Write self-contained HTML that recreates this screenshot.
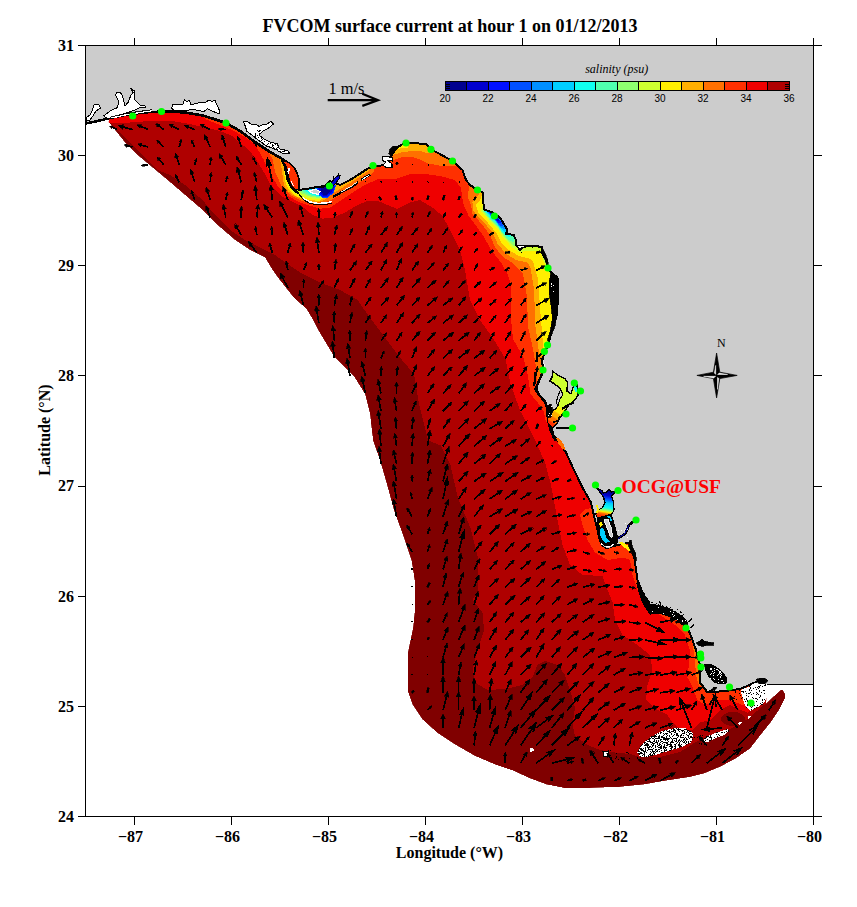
<!DOCTYPE html>
<html><head><meta charset="utf-8"><style>
html,body{margin:0;padding:0;background:#fff}
body{width:857px;height:907px;position:relative;overflow:hidden;font-family:"Liberation Serif",serif;color:#000}
.t{position:absolute;white-space:nowrap;line-height:1}
.yl{font-size:16px;font-weight:bold}
.xl{font-size:16px;font-weight:bold;transform:translateX(-50%)}
.cb{font-family:"Liberation Sans",sans-serif;font-size:10px;transform:translateX(-50%)}
</style></head><body>
<svg width="857" height="907" viewBox="0 0 857 907" style="position:absolute;left:0;top:0" shape-rendering="crispEdges">
<defs><clipPath id="dom"><polygon points="108.5,122.0 115.0,130.0 125.0,142.5 137.5,155.0 152.5,167.5 167.5,180.0 185.0,195.0 202.5,210.0 217.5,225.0 235.0,240.0 250.0,250.0 265.0,257.5 272.5,270.0 279.0,279.0 294.0,298.0 306.5,309.0 313.0,320.0 319.0,331.5 334.0,356.5 354.0,376.5 365.0,394.0 370.0,414.0 371.5,428.0 373.0,440.5 380.0,460.5 386.5,483.0 394.0,510.5 404.0,538.0 411.5,560.5 415.0,583.0 415.0,608.0 413.0,628.0 410.0,642.0 408.0,652.0 407.5,667.0 408.0,692.0 412.5,704.5 422.5,719.5 437.5,733.0 455.0,744.5 475.0,756.0 495.0,764.5 514.0,771.0 529.0,778.0 546.5,784.5 564.0,788.0 589.0,788.0 619.0,787.0 644.0,784.5 664.0,781.0 690.0,777.0 704.0,773.6 720.8,766.6 736.2,758.2 750.2,748.4 760.0,735.8 771.2,721.8 779.6,709.2 785.2,698.0 785.2,694.0 782.4,689.6 781.0,689.8 774.0,696.0 766.0,703.5 767.0,690.0 765.0,684.5 765.0,681.0 755.0,682.5 740.0,689.0 725.0,691.0 707.5,692.5 700.0,682.5 700.0,665.0 696.0,650.0 692.5,640.0 687.5,627.5 680.0,617.5 665.0,610.0 650.0,605.0 642.5,592.5 637.5,580.0 634.0,555.0 630.0,542.5 617.5,545.0 607.5,547.5 600.0,540.0 595.0,520.0 591.0,502.5 582.5,487.5 574.0,470.0 566.0,452.5 557.5,440.0 551.0,432.5 549.0,425.0 547.5,417.5 547.5,407.5 545.0,401.0 538.7,395.0 535.0,388.7 538.0,383.7 541.0,376.0 543.0,367.5 542.5,358.7 545.5,351.5 549.0,341.5 553.0,326.5 557.0,314.0 558.5,289.0 557.5,277.5 551.0,272.5 547.5,265.0 546.0,260.0 542.5,253.7 542.0,247.0 535.0,246.0 525.0,246.0 520.0,250.0 516.0,245.0 516.0,240.0 513.7,235.0 506.0,233.7 507.5,230.0 503.7,223.7 500.0,217.5 492.5,212.5 484.4,209.4 483.0,201.0 482.5,192.0 477.5,190.0 470.0,185.0 466.0,180.0 462.5,170.0 452.5,161.0 432.5,150.0 426.0,144.0 406.0,142.5 397.5,147.0 391.0,156.0 388.0,165.0 374.0,166.0 367.5,168.7 360.0,173.7 350.0,180.0 340.0,185.0 330.0,181.0 325.0,186.0 317.5,187.0 307.5,188.7 298.7,190.0 298.7,180.0 296.0,171.0 291.0,165.0 282.5,159.0 270.0,152.0 255.0,142.0 240.0,131.0 226.0,123.0 214.0,119.0 202.5,115.5 185.0,112.5 170.0,111.5 150.0,112.0 130.0,114.0 110.0,118.0 110.0,118.0"/></clipPath></defs>
<rect width="857" height="907" fill="#fff"/>
<g clip-path="url(#dom)">
<polygon points="108.5,122.0 115.0,130.0 125.0,142.5 137.5,155.0 152.5,167.5 167.5,180.0 185.0,195.0 202.5,210.0 217.5,225.0 235.0,240.0 250.0,250.0 265.0,257.5 272.5,270.0 279.0,279.0 294.0,298.0 306.5,309.0 313.0,320.0 319.0,331.5 334.0,356.5 354.0,376.5 365.0,394.0 370.0,414.0 371.5,428.0 373.0,440.5 380.0,460.5 386.5,483.0 394.0,510.5 404.0,538.0 411.5,560.5 415.0,583.0 415.0,608.0 413.0,628.0 410.0,642.0 408.0,652.0 407.5,667.0 408.0,692.0 412.5,704.5 422.5,719.5 437.5,733.0 455.0,744.5 475.0,756.0 495.0,764.5 514.0,771.0 529.0,778.0 546.5,784.5 564.0,788.0 589.0,788.0 619.0,787.0 644.0,784.5 664.0,781.0 690.0,777.0 704.0,773.6 720.8,766.6 736.2,758.2 750.2,748.4 760.0,735.8 771.2,721.8 779.6,709.2 785.2,698.0 785.2,694.0 782.4,689.6 781.0,689.8 774.0,696.0 766.0,703.5 767.0,690.0 765.0,684.5 765.0,681.0 755.0,682.5 740.0,689.0 725.0,691.0 707.5,692.5 700.0,682.5 700.0,665.0 696.0,650.0 692.5,640.0 687.5,627.5 680.0,617.5 665.0,610.0 650.0,605.0 642.5,592.5 637.5,580.0 634.0,555.0 630.0,542.5 617.5,545.0 607.5,547.5 600.0,540.0 595.0,520.0 591.0,502.5 582.5,487.5 574.0,470.0 566.0,452.5 557.5,440.0 551.0,432.5 549.0,425.0 547.5,417.5 547.5,407.5 545.0,401.0 538.7,395.0 535.0,388.7 538.0,383.7 541.0,376.0 543.0,367.5 542.5,358.7 545.5,351.5 549.0,341.5 553.0,326.5 557.0,314.0 558.5,289.0 557.5,277.5 551.0,272.5 547.5,265.0 546.0,260.0 542.5,253.7 542.0,247.0 535.0,246.0 525.0,246.0 520.0,250.0 516.0,245.0 516.0,240.0 513.7,235.0 506.0,233.7 507.5,230.0 503.7,223.7 500.0,217.5 492.5,212.5 484.4,209.4 483.0,201.0 482.5,192.0 477.5,190.0 470.0,185.0 466.0,180.0 462.5,170.0 452.5,161.0 432.5,150.0 426.0,144.0 406.0,142.5 397.5,147.0 391.0,156.0 388.0,165.0 374.0,166.0 367.5,168.7 360.0,173.7 350.0,180.0 340.0,185.0 330.0,181.0 325.0,186.0 317.5,187.0 307.5,188.7 298.7,190.0 298.7,180.0 296.0,171.0 291.0,165.0 282.5,159.0 270.0,152.0 255.0,142.0 240.0,131.0 226.0,123.0 214.0,119.0 202.5,115.5 185.0,112.5 170.0,111.5 150.0,112.0 130.0,114.0 110.0,118.0 110.0,118.0" fill="#800000"/>
<polygon points="157.5,170.0 170.0,175.0 185.0,185.0 202.5,200.0 215.0,215.0 230.0,230.0 245.0,240.0 260.0,247.5 275.0,255.0 289.0,265.0 302.5,274.0 320.0,282.5 340.0,290.0 357.5,300.0 369.0,316.5 384.0,336.5 399.0,356.5 414.0,374.0 419.0,404.0 425.0,428.0 428.0,440.5 440.5,445.5 450.5,465.5 458.0,498.0 470.5,528.0 478.0,558.0 478.0,590.5 472.5,600.0 482.5,612.5 484.0,630.0 477.5,650.0 472.5,670.0 475.0,682.5 487.5,690.0 505.0,689.0 522.5,685.0 532.5,677.5 537.5,665.0 545.0,661.0 557.5,665.0 565.0,675.0 570.0,690.0 575.0,707.5 572.5,725.0 575.0,736.0 587.5,745.0 600.0,750.0 615.0,752.5 630.0,754.0 640.0,757.0 660.0,757.0 680.0,752.0 695.0,742.5 707.5,736.0 727.5,730.0 740.0,724.0 750.0,717.5 758.6,709.5 765.6,703.8 767.0,700.0 767.0,684.0 840.0,684.0 840.0,30.0 60.0,30.0 60.0,130.0 108.0,121.0" fill="#af0000"/>
<polygon points="108.5,122.5 130.0,122.5 150.0,121.0 172.5,121.0 190.0,124.0 205.0,127.5 220.0,131.0 232.5,136.0 242.5,145.0 248.0,149.0 255.6,158.4 264.0,172.4 271.5,186.4 280.8,195.7 291.0,201.0 302.3,206.5 312.5,215.0 322.5,218.7 332.5,217.5 345.0,212.5 357.5,205.0 367.5,201.0 377.0,200.5 390.0,206.0 397.5,209.0 410.0,202.5 420.0,200.0 432.5,207.5 442.5,216.0 450.0,230.0 460.0,250.0 465.0,270.0 470.0,300.0 480.0,320.0 492.5,337.5 505.5,359.0 510.5,384.0 520.5,411.5 525.0,420.0 535.0,440.0 545.0,462.5 551.0,485.0 557.5,520.0 562.5,545.0 570.0,565.0 582.5,575.0 602.5,576.0 607.5,590.0 612.5,602.0 615.0,620.0 622.5,635.0 637.5,645.0 650.0,655.0 652.5,670.0 647.5,685.0 646.0,700.0 657.5,710.0 667.5,715.0 672.5,722.5 680.0,730.0 692.5,730.0 700.0,722.5 710.0,720.0 720.0,710.0 730.0,705.0 740.0,710.0 747.5,712.5 760.0,705.0 765.0,699.0 767.0,684.0 840.0,684.0 840.0,30.0 60.0,30.0 60.0,118.0" fill="#ef0000"/>
<ellipse cx="733" cy="719" rx="12" ry="7" fill="#800000"/>
<polygon points="196.0,108.0 205.0,119.0 217.5,124.0 232.0,130.0 245.0,137.0 254.7,144.3 263.0,158.4 269.6,172.4 278.0,186.4 287.4,195.7 300.0,202.5 311.0,206.0 320.0,208.7 330.0,207.5 337.5,202.5 345.0,197.5 355.0,191.0 365.0,185.0 377.0,179.5 395.0,179.0 410.0,174.0 425.0,174.0 440.0,176.0 455.0,180.0 461.0,188.0 462.0,196.0 463.7,205.0 468.7,216.0 477.5,227.5 485.0,238.7 491.0,250.0 501.0,262.5 508.0,275.0 510.5,284.0 510.5,314.0 513.0,339.0 523.0,356.5 528.0,376.5 530.5,394.0 538.0,403.0 544.0,412.0 546.0,422.0 560.0,422.0 840.0,422.0 840.0,30.0 196.0,30.0" fill="#ff3000"/>
<polygon points="553.0,434.0 556.0,437.5 560.0,442.0 563.0,447.0 566.0,452.5 572.0,450.0 565.0,436.0" fill="#ff3000"/>
<polygon points="600.0,500.0 592.5,508.0 585.0,509.0 580.0,515.0 582.5,525.0 587.5,540.0 595.0,552.5 607.5,560.0 622.5,557.5 630.0,560.0 632.5,575.0 637.5,590.0 645.0,605.0 660.0,615.0 675.0,625.0 685.0,635.0 690.0,650.0 688.8,665.0 687.5,677.5 692.5,687.5 697.5,700.0 705.0,705.0 717.5,700.0 730.0,700.0 742.5,705.0 760.0,700.0 766.0,690.0 800.0,600.0" fill="#ff3000"/>
<polygon points="258.0,141.0 262.0,146.0 268.0,152.0 272.4,158.4 275.2,172.4 281.8,186.4 291.0,195.7 301.0,200.5 311.0,203.7 320.0,205.0 325.0,202.5 333.0,199.0 347.5,190.0 365.0,179.0 374.0,172.0 374.0,150.0 262.0,130.0" fill="#ff7000"/>
<polygon points="276.0,153.0 279.0,157.0 281.0,164.0 282.2,172.4 283.0,180.0 284.6,186.4 288.5,191.5 293.9,195.7 305.0,200.5 317.5,202.5 324.0,200.0 332.0,194.0 345.0,186.0 358.0,178.0 370.0,170.0 370.0,150.0 276.0,140.0" fill="#ffaf00"/>
<polygon points="283.0,160.0 283.5,166.0 284.1,172.4 285.0,180.0 286.9,186.4 291.0,192.0 296.7,196.5 307.5,199.5 318.7,201.0 324.0,198.0 328.0,192.0 334.0,186.0 340.0,176.0 340.0,150.0 283.0,150.0" fill="#ffef00"/>
<polygon points="285.0,170.0 285.5,176.0 287.0,181.0 289.3,186.4 293.5,192.0 299.5,195.7 308.0,198.0 319.0,199.5 323.0,197.0 327.0,190.0 333.0,182.0 333.0,160.0 285.0,160.0" fill="#cfff30"/>
<polygon points="298.0,189.0 302.0,193.5 310.0,196.5 319.0,198.0 324.0,195.0 328.0,188.0 333.0,181.0 330.0,178.0 300.0,185.0" fill="#8fff70"/>
<polygon points="299.0,189.0 305.0,193.0 312.0,196.0 319.0,197.0 323.0,194.0 327.0,187.0 331.0,181.0 300.0,186.0" fill="#50ffaf"/>
<polygon points="303.0,189.5 309.0,193.5 315.0,195.5 320.0,196.0 323.0,193.0 326.0,187.0 330.0,181.0 305.0,187.0" fill="#10ffef"/>
<polygon points="308.0,190.0 313.0,194.0 319.0,195.0 322.0,192.5 325.0,187.0 329.0,181.5 312.0,187.0" fill="#00cfff"/>
<polygon points="314.0,190.0 317.0,193.5 320.0,194.5 323.0,192.0 326.0,187.0 329.0,182.0 318.0,186.0" fill="#008fff"/>
<polygon points="316.0,189.5 318.0,194.5 322.0,197.5 328.0,197.5 333.5,193.0 336.0,186.0 333.0,183.0 322.0,185.0" fill="#0050ff"/>
<polygon points="317.5,189.0 319.5,194.0 322.5,196.5 327.5,196.5 333.0,192.5 335.0,186.5 332.5,184.0 323.0,185.0" fill="#0010ff"/>
<polygon points="319.0,188.5 320.5,193.0 323.0,195.5 327.0,195.5 332.0,191.5 334.0,187.0 332.0,185.0 324.0,185.5" fill="#0000cf"/>
<polygon points="320.5,188.0 321.5,192.0 323.5,194.5 326.5,194.5 330.5,190.5 332.5,187.5 331.0,186.0 325.0,186.0" fill="#00008f"/>
<polygon points="391.0,163.0 393.7,160.0 402.5,157.0 412.5,157.0 420.0,159.4 428.7,163.7 440.0,165.6 450.0,166.0 456.0,166.0 462.0,168.0 462.0,140.0 391.0,140.0" fill="#ff7000"/>
<polygon points="391.0,156.0 392.5,155.0 401.0,152.5 411.0,151.0 420.0,151.0 426.0,153.0 430.0,152.5 432.0,150.0 432.0,140.0 391.0,140.0" fill="#ffaf00"/>
<polygon points="395.0,150.0 400.0,148.5 408.0,148.0 408.0,143.0 396.0,143.0" fill="#ffef00"/>
<polygon points="470.0,184.0 467.5,196.0 471.0,205.0 472.5,213.7 482.5,225.0 490.0,235.0 495.0,247.5 503.7,257.5 513.7,263.7 523.0,274.0 527.0,296.5 528.0,326.5 533.0,349.0 535.5,364.0 537.0,378.0 537.0,384.0 560.0,384.0 560.0,184.0" fill="#ff7000"/>
<polygon points="480.0,190.0 478.7,195.0 472.5,202.5 472.5,210.0 477.5,216.0 485.0,223.7 492.5,232.5 497.5,243.7 506.0,253.7 516.0,260.0 527.5,262.5 530.5,268.0 534.0,289.0 535.5,326.5 538.0,346.5 540.0,357.0 560.0,357.0 560.0,190.0" fill="#ffaf00"/>
<polygon points="482.0,193.0 481.0,198.7 476.0,205.0 478.7,213.7 487.5,222.5 496.0,232.5 501.0,242.5 508.7,250.0 518.7,256.0 530.0,258.7 533.0,261.5 538.0,279.0 540.5,314.0 543.0,344.0 543.0,352.0 560.0,352.0 560.0,193.0" fill="#ffef00"/>
<polygon points="483.0,200.0 482.5,205.0 481.0,211.0 488.7,220.0 497.5,228.7 503.7,238.7 512.5,247.5 519.0,252.0 526.0,251.0 536.0,251.0 541.0,253.0 544.0,262.0 547.0,270.0 552.0,276.0 565.0,276.0 565.0,200.0" fill="#cfff30"/>
<polygon points="702.0,640.0 692.5,642.5 695.0,660.0 696.0,675.0 699.0,686.0 703.0,686.0 703.0,640.0" fill="#ff7000"/>
<polygon points="483.5,204.0 482.5,211.0 489.5,219.5 498.0,227.5 504.5,237.0 512.0,245.0 517.0,247.0 519.0,243.0 517.0,237.0 509.0,234.0 510.0,229.0 506.0,221.0 500.0,215.0 492.0,210.0 486.0,205.0" fill="#8fff70"/>
<polygon points="484.6,205.1 483.8,211.1 489.8,218.4 497.1,225.3 502.7,233.4 509.1,240.3 513.4,242.0 515.1,238.6 513.4,233.4 506.6,230.8 507.4,226.6 504.0,219.7 498.8,214.5 491.9,210.2 486.8,205.9" fill="#50ffaf"/>
<polygon points="485.7,206.1 485.0,211.1 490.1,217.3 496.2,223.0 500.9,229.9 506.3,235.6 509.9,237.1 511.3,234.2 509.9,229.9 504.1,227.7 504.8,224.1 501.9,218.3 497.6,214.0 491.9,210.4 487.5,206.8" fill="#10ffef"/>
<polygon points="486.7,207.0 486.1,211.2 490.3,216.3 495.4,221.1 499.3,226.8 503.8,231.6 506.8,232.8 508.0,230.4 506.8,226.8 502.0,225.0 502.6,222.0 500.2,217.2 496.6,213.6 491.8,210.6 488.2,207.6" fill="#00cfff"/>
<polygon points="487.5,207.8 487.0,211.2 490.5,215.5 494.8,219.5 498.0,224.2 501.8,228.2 504.2,229.2 505.2,227.2 504.2,224.2 500.2,222.8 500.8,220.2 498.8,216.2 495.8,213.2 491.8,210.8 488.8,208.2" fill="#008fff"/>
<polygon points="488.1,208.3 487.7,211.3 490.7,214.9 494.2,218.2 497.0,222.2 500.1,225.6 502.2,226.4 503.1,224.7 502.2,222.2 498.9,220.9 499.3,218.8 497.6,215.5 495.1,213.0 491.7,210.9 489.2,208.8" fill="#0050ff"/>
<polygon points="488.8,208.9 488.4,211.3 490.8,214.2 493.7,216.9 495.9,220.2 498.5,222.9 500.2,223.6 500.9,222.2 500.2,220.2 497.4,219.2 497.8,217.4 496.4,214.7 494.4,212.7 491.7,211.0 489.6,209.3" fill="#0010ff"/>
<polygon points="489.3,209.5 489.1,211.4 491.0,213.7 493.3,215.8 495.0,218.4 497.0,220.5 498.4,221.1 498.9,220.0 498.4,218.4 496.2,217.6 496.5,216.2 495.4,214.1 493.8,212.4 491.6,211.1 490.0,209.7" fill="#0000cf"/>
<polygon points="489.9,210.0 489.7,211.4 491.1,213.1 492.8,214.7 494.1,216.6 495.6,218.2 496.6,218.6 497.0,217.8 496.6,216.6 495.0,216.0 495.2,215.0 494.4,213.4 493.2,212.2 491.6,211.2 490.4,210.2" fill="#00008f"/>
</g>
<polygon points="85.5,45.5 813.5,45.5 813.5,684.5 765.0,684.5 765.0,681.0 755.0,682.5 740.0,689.0 725.0,691.0 707.5,692.5 700.0,682.5 700.0,665.0 696.0,650.0 692.5,640.0 687.5,627.5 680.0,617.5 665.0,610.0 650.0,605.0 642.5,592.5 637.5,580.0 634.0,555.0 630.0,542.5 617.5,545.0 607.5,547.5 600.0,540.0 595.0,520.0 591.0,502.5 582.5,487.5 574.0,470.0 566.0,452.5 557.5,440.0 551.0,432.5 549.0,425.0 547.5,417.5 547.5,407.5 545.0,401.0 538.7,395.0 535.0,388.7 538.0,383.7 541.0,376.0 543.0,367.5 542.5,358.7 545.5,351.5 549.0,341.5 553.0,326.5 557.0,314.0 558.5,289.0 557.5,277.5 551.0,272.5 547.5,265.0 546.0,260.0 542.5,253.7 542.0,247.0 535.0,246.0 525.0,246.0 520.0,250.0 516.0,245.0 516.0,240.0 513.7,235.0 506.0,233.7 507.5,230.0 503.7,223.7 500.0,217.5 492.5,212.5 484.4,209.4 483.0,201.0 482.5,192.0 477.5,190.0 470.0,185.0 466.0,180.0 462.5,170.0 452.5,161.0 432.5,150.0 426.0,144.0 406.0,142.5 397.5,147.0 391.0,156.0 388.0,165.0 374.0,166.0 367.5,168.7 360.0,173.7 350.0,180.0 340.0,185.0 330.0,181.0 325.0,186.0 317.5,187.0 307.5,188.7 298.7,190.0 298.7,180.0 296.0,171.0 291.0,165.0 282.5,159.0 270.0,152.0 255.0,142.0 240.0,131.0 226.0,123.0 214.0,119.0 202.5,115.5 185.0,112.5 170.0,111.5 150.0,112.0 130.0,114.0 110.0,118.0 100.0,120.5 85.5,123.5" fill="#cccccc"/>
<polyline points="85.5,123.5 100.0,120.5 110.0,118.0 130.0,114.0 150.0,112.0 170.0,111.5 185.0,112.5 202.5,115.5 214.0,119.0 226.0,123.0 240.0,131.0 255.0,142.0 270.0,152.0 282.5,159.0 291.0,165.0 296.0,171.0 298.7,180.0 298.7,190.0 307.5,188.7 317.5,187.0 325.0,186.0 330.0,181.0 340.0,185.0 350.0,180.0 360.0,173.7 367.5,168.7 374.0,166.0 388.0,165.0 391.0,156.0 397.5,147.0 406.0,142.5 426.0,144.0 432.5,150.0 452.5,161.0 462.5,170.0 466.0,180.0 470.0,185.0 477.5,190.0 482.5,192.0 483.0,201.0 484.4,209.4 492.5,212.5 500.0,217.5 503.7,223.7 507.5,230.0 506.0,233.7 513.7,235.0 516.0,240.0 516.0,245.0 520.0,250.0 525.0,246.0 535.0,246.0 542.0,247.0 542.5,253.7 546.0,260.0 547.5,265.0 551.0,272.5 557.5,277.5 558.5,289.0 557.0,314.0 553.0,326.5 549.0,341.5 545.5,351.5 542.5,358.7 543.0,367.5 541.0,376.0 538.0,383.7 535.0,388.7 538.7,395.0 545.0,401.0 547.5,407.5 547.5,417.5 549.0,425.0 551.0,432.5 557.5,440.0 566.0,452.5 574.0,470.0 582.5,487.5 591.0,502.5 595.0,520.0 600.0,540.0 607.5,547.5 617.5,545.0 630.0,542.5 634.0,555.0 637.5,580.0 642.5,592.5 650.0,605.0 665.0,610.0 680.0,617.5 687.5,627.5 692.5,640.0 696.0,650.0 700.0,665.0 700.0,682.5 707.5,692.5 725.0,691.0 740.0,689.0 755.0,682.5 765.0,681.0" fill="none" stroke="#000" stroke-width="2" stroke-linejoin="round"/>
<polyline points="85.5,123.5 100.0,120.5 110.0,118.0 130.0,114.0 150.0,112.0 170.0,111.5 185.0,112.5 202.5,115.5 214.0,119.0 226.0,123.0 240.0,131.0 255.0,142.0 270.0,152.0 282.5,159.0 291.0,165.0 296.0,171.0 298.7,180.0 298.7,190.0" fill="none" stroke="#000" stroke-width="2.6" stroke-linejoin="round"/>
<path d="M765,684.5H813.5" stroke="#000" stroke-width="1.3" fill="none"/>
<!--DETAILS-->
<polygon points="86.0,117.5 90.0,115.0 92.5,110.0 93.7,105.0 98.7,104.0 100.5,108.0 96.0,111.0 93.0,116.0 90.0,120.0 86.0,121.5" fill="#fff" stroke="#000" stroke-width="1.0" />
<polygon points="103.7,116.0 110.0,111.0 117.5,107.5 118.7,101.0 115.6,95.0 117.0,92.0 120.0,92.0 122.5,96.0 125.0,106.0 128.0,102.5 131.0,95.0 133.0,92.5 131.0,88.7 135.0,91.0 134.4,96.0 135.0,100.0 140.0,105.0 145.0,106.0 145.0,107.5 140.0,107.5 135.0,110.0 127.5,112.5 120.0,115.0 115.0,117.5 108.0,119.0" fill="#fff" stroke="#000" stroke-width="1.0" />
<polyline points="112.0,118.0 125.0,115.0 140.0,112.5 152.0,110.8" fill="none" stroke="#fff" stroke-width="1.2"/>
<polyline points="110.0,117.3 125.0,113.6 140.0,111.2 152.0,109.7" fill="none" stroke="#000" stroke-width="0.9"/>
<polygon points="171.5,108.0 173.0,104.0 177.0,105.0 183.0,104.0 184.6,99.8 187.0,101.5 189.5,100.6 191.0,104.7 198.0,103.0 205.8,102.0 209.0,100.0 212.0,101.4 215.0,100.5 217.0,104.7 219.7,111.0 219.0,113.7 212.0,111.0 207.5,108.8 204.0,111.5 201.0,111.0 194.0,109.6 184.6,110.4 174.8,111.0" fill="#fff" stroke="#000" stroke-width="1.0" />
<polygon points="243.4,121.0 248.0,122.0 252.0,124.5 256.0,124.0 259.0,126.5 263.0,124.5 267.0,124.0 271.0,121.5 273.6,124.0 268.0,128.4 263.0,131.0 259.0,135.0 264.0,139.0 271.0,142.3 277.7,144.0 279.4,148.8 287.5,150.5 290.0,153.0 282.6,153.5 276.0,149.6 266.3,146.0 258.0,140.0 252.0,135.0 247.0,131.5 245.5,127.0" fill="#fff" stroke="#000" stroke-width="1.0" />
<path d="M270,143h1v1h-1zM272,144h1v1h-1zM261,142h1v1h-1zM277,149h1v1h-1zM258,137h1v1h-1zM277,144h1v1h-1zM260,130h1v1h-1zM273,145h1v1h-1zM272,145h1v1h-1zM255,135h1v1h-1zM258,137h1v1h-1zM259,135h1v1h-1zM258,131h1v1h-1zM259,140h1v1h-1zM262,139h1v1h-1zM257,135h1v1h-1zM255,136h1v1h-1zM261,138h1v1h-1zM259,130h1v1h-1zM271,147h1v1h-1zM280,151h1v1h-1zM282,151h1v1h-1zM286,150h1v1h-1zM275,144h1v1h-1zM263,130h1v1h-1zM266,145h1v1h-1zM261,140h1v1h-1zM283,151h1v1h-1zM284,150h1v1h-1zM262,139h1v1h-1zM257,130h1v1h-1zM255,133h1v1h-1zM259,131h1v1h-1zM277,145h1v1h-1zM283,153h1v1h-1zM276,148h1v1h-1zM259,140h1v1h-1zM268,143h1v1h-1zM280,149h1v1h-1zM277,147h1v1h-1zM274,148h1v1h-1zM259,133h1v1h-1zM273,147h1v1h-1zM262,142h1v1h-1zM284,151h1v1h-1zM288,152h1v1h-1zM264,141h1v1h-1zM259,140h1v1h-1zM283,151h1v1h-1zM267,144h1v1h-1zM280,149h1v1h-1zM269,146h1v1h-1zM255,134h1v1h-1zM272,148h1v1h-1zM272,146h1v1h-1z" fill="#000"/>
<polygon points="283.0,161.5 288.0,162.0 293.0,166.5 296.5,172.0 298.3,178.0 298.3,189.0 296.0,190.5 292.5,187.0 289.5,181.0 288.0,174.0 286.5,167.0" fill="#ff3000" stroke="#000" stroke-width="1.2" />
<polyline points="281.8,160.2 284.6,165.8 286.0,172.4 287.4,179.0 290.2,185.5 294.9,191.0 298.6,193.5" fill="none" stroke="#000" stroke-width="2.2"/>
<polyline points="298.6,193.5 303.3,199.5" fill="none" stroke="#000" stroke-width="1.2"/>
<polyline points="289.5,168.5 288.3,171.0 288.8,173.5" fill="none" stroke="#fff" stroke-width="1.8"/>
<polyline points="291.0,181.0 293.5,186.0" fill="none" stroke="#fff" stroke-width="1.0"/>
<polyline points="303.0,198.0 310.0,202.0 318.0,203.5 326.0,203.0 332.0,201.5" fill="none" stroke="#fff" stroke-width="1.6"/>
<polyline points="303.0,199.5 310.0,203.5 318.0,205.0 326.0,204.5 332.0,203.0" fill="none" stroke="#000" stroke-width="1.0"/>
<polyline points="333.0,197.0 340.0,193.0 352.0,187.0 358.0,182.0" fill="none" stroke="#000" stroke-width="2.2"/>
<polyline points="341.0,192.0 351.0,186.5 357.0,182.0" fill="none" stroke="#fff" stroke-width="0.9"/>
<polyline points="361.0,180.0 366.0,177.0 370.0,174.5" fill="none" stroke="#000" stroke-width="2.4"/>
<polyline points="362.0,179.5 369.0,175.5" fill="none" stroke="#fff" stroke-width="1.0"/>
<polygon points="329.0,186.0 334.0,179.0 337.0,176.0 340.0,175.5 339.0,179.0 335.0,184.0 331.0,188.0" fill="#0000cf" stroke="#000" stroke-width="1.0" />
<polyline points="334.0,179.0 333.0,176.5" fill="none" stroke="#000" stroke-width="1.2"/>
<polyline points="337.0,177.0 339.0,173.5" fill="none" stroke="#000" stroke-width="1.2"/>
<polyline points="331.0,182.0 329.0,180.0" fill="none" stroke="#000" stroke-width="1.2"/>
<polygon points="309.0,190.5 316.0,189.5 320.0,191.5 318.0,194.5 312.0,193.0" fill="#cccccc" stroke="#fff" stroke-width="1.2" />
<polyline points="300.0,189.5 308.0,188.3 316.0,187.5 324.0,187.0" fill="none" stroke="#000" stroke-width="1.2"/>
<polygon points="382.5,157.0 388.0,156.5 392.5,158.0 392.5,161.0 388.0,160.5 392.0,164.0 392.0,167.0 386.0,167.5 383.0,165.0 386.0,162.0 382.5,160.5" fill="#fff" stroke="#000" stroke-width="1.1" />
<polygon points="388.7,153.7 390.0,149.0 393.0,146.5 397.0,146.0 394.0,150.0 393.0,154.0 391.0,156.0" fill="#000" stroke="#000" stroke-width="0.8" />
<polygon points="516.0,245.0 520.0,250.0 522.0,247.5 528.0,246.5 533.0,247.0" fill="#fff" stroke="#000" stroke-width="1.2" />
<polygon points="551.0,272.0 558.0,277.5 558.7,289.0 558.0,300.0 557.0,314.0 555.0,326.0 551.5,335.0 548.5,342.0 547.5,340.0 550.5,330.0 552.5,318.0 551.0,305.0 549.5,295.0 549.0,283.0" fill="#000" stroke="#000" stroke-width="0.8" />
<polygon points="543.0,249.0 545.5,254.0 547.5,259.0 548.5,264.0 546.5,264.0 544.5,258.0 542.5,254.0" fill="#000" stroke="#000" stroke-width="0.6" />
<path d="M551,284h1v1h-1zM551,283h1v1h-1zM553,291h1v1h-1zM553,285h1v1h-1zM551,286h1v1h-1z" fill="#fff"/>
<polyline points="537.0,352.0 536.5,362.0" fill="none" stroke="#000" stroke-width="2.2"/>
<polyline points="535.5,372.0 535.0,380.0 534.0,386.0" fill="none" stroke="#000" stroke-width="2.2"/>
<polyline points="541.5,358.0 543.0,366.0 542.0,374.0 539.0,381.0 536.0,388.0 539.0,395.0 544.5,401.0 547.0,407.0 547.5,417.0" fill="none" stroke="#000" stroke-width="2.4"/>
<polyline points="543.5,360.0 544.5,367.0 543.5,373.0" fill="none" stroke="#fff" stroke-width="0.9"/>
<defs><linearGradient id="tbg" gradientUnits="userSpaceOnUse" x1="570" y1="392" x2="549" y2="424"><stop offset="0" stop-color="#cfff30"/><stop offset="0.45" stop-color="#cfff30"/><stop offset="0.5" stop-color="#ffef00"/><stop offset="0.62" stop-color="#ffef00"/><stop offset="0.66" stop-color="#ffaf00"/><stop offset="0.76" stop-color="#ffaf00"/><stop offset="0.8" stop-color="#ff7000"/><stop offset="0.9" stop-color="#ff7000"/><stop offset="0.93" stop-color="#ff3000"/></linearGradient></defs>
<polygon points="552.5,371.0 557.5,375.0 565.0,378.7 567.5,382.5 567.0,391.0 571.0,393.7 572.5,388.7 575.0,383.7 577.0,385.0 578.0,395.0 575.0,400.0 568.7,405.0 565.0,411.0 560.0,417.5 556.0,425.0 552.5,427.5 547.5,422.5 547.5,417.5 552.5,411.0 557.5,407.5 558.7,400.0 562.5,393.7 560.0,388.7 556.0,385.0 550.0,381.0 552.5,376.0" fill="url(#tbg)" stroke="#000" stroke-width="1.4" />
<polygon points="573.5,386.0 576.0,384.5 577.5,392.0 575.0,392.5" fill="#10ffef" stroke="none" stroke-width="0" />
<polygon points="560.5,390.0 563.0,394.0 559.5,400.0 558.5,405.0 556.0,403.0 558.0,396.0" fill="#cccccc" stroke="#000" stroke-width="1.0" />
<polygon points="547.5,405.0 551.0,404.0 552.5,409.0 551.5,416.0 548.5,417.5 547.0,412.0" fill="#000" stroke="#000" stroke-width="0.8" />
<path d="M551,415h1v1h-1zM551,406h1v1h-1zM548,415h1v1h-1zM549,413h1v1h-1z" fill="#fff"/>
<polyline points="549.0,425.0 552.0,430.0 553.5,437.0 556.0,441.0" fill="none" stroke="#000" stroke-width="2.6"/>
<polyline points="562.0,409.0 568.0,405.0 574.0,402.5" fill="none" stroke="#000" stroke-width="2.0"/>
<polyline points="558.0,418.0 563.0,415.0 566.0,414.0" fill="none" stroke="#000" stroke-width="1.6"/>
<polyline points="556.0,428.0 563.0,428.0 572.0,428.0" fill="none" stroke="#000" stroke-width="1.4"/>
<polyline points="553.0,422.0 558.0,421.0" fill="none" stroke="#000" stroke-width="1.6"/>
<defs><linearGradient id="chg" gradientUnits="userSpaceOnUse" x1="608" y1="492" x2="604" y2="516"><stop offset="0" stop-color="#00008f"/><stop offset="0.15" stop-color="#0000cf"/><stop offset="0.3" stop-color="#0050ff"/><stop offset="0.45" stop-color="#00cfff"/><stop offset="0.65" stop-color="#10ffef"/><stop offset="0.75" stop-color="#8fff70"/><stop offset="0.83" stop-color="#ffef00"/><stop offset="0.9" stop-color="#ff7000"/><stop offset="1" stop-color="#ff3000"/></linearGradient></defs>
<polygon points="595.5,485.5 599.0,489.0 602.0,490.5 603.5,493.0 607.0,492.0 609.0,489.5 611.0,492.0 618.0,490.5 614.0,493.5 611.5,496.0 613.5,502.0 614.0,510.0 612.0,514.0 607.0,515.5 602.0,517.0 597.5,518.0 595.5,514.0 598.0,510.0 602.0,508.0 605.0,503.0 603.5,497.0 600.5,493.0 597.5,489.0" fill="url(#chg)" stroke="#000" stroke-width="1.3" />
<polygon points="597.5,518.0 603.0,517.0 611.5,515.0 613.5,522.0 616.0,531.0 618.0,538.0 617.0,543.0 612.0,547.0 606.0,549.0 601.5,545.0 598.5,538.0 597.0,528.0" fill="#000" stroke="#000" stroke-width="1.0" />
<polygon points="599.5,530.0 602.0,527.0 604.5,531.0 606.5,538.0 610.0,541.5 606.0,543.0 602.5,540.0 600.0,535.0" fill="#00cfff" stroke="none" stroke-width="0" />
<polygon points="604.0,520.0 608.5,519.5 611.0,527.0 612.5,536.0 610.5,537.0 607.5,529.0" fill="#cccccc" stroke="#fff" stroke-width="0.9" />
<polyline points="601.0,543.5 605.0,546.5 610.0,546.5 614.0,544.0" fill="none" stroke="#fff" stroke-width="1.0"/>
<polyline points="603.0,545.5 607.5,547.5 612.0,546.5" fill="none" stroke="#cccccc" stroke-width="1.0"/>
<polyline points="607.5,516.5 610.5,517.5 611.0,521.0" fill="none" stroke="#00cfff" stroke-width="1.6"/>
<polygon points="599.0,524.0 601.0,521.5 602.5,524.5 600.5,527.5" fill="#ffef00" stroke="none" stroke-width="0" />
<polyline points="616.7,538.5 621.0,536.5 625.6,533.5 627.5,529.0 629.0,525.0 633.0,522.0 636.0,520.5" fill="none" stroke="#000" stroke-width="2.6"/>
<polyline points="617.5,538.0 621.0,536.2 625.2,533.2 627.3,528.8 629.0,525.0" fill="none" stroke="#0000cf" stroke-width="0.9"/>
<path d="M621,530h1v1h-1zM624,530h1v1h-1zM625,523h1v1h-1zM627,537h1v1h-1zM618,530h1v1h-1zM627,529h1v1h-1z" fill="#fff"/>
<polygon points="618.0,542.0 623.0,546.5 628.0,550.0 631.0,553.5 632.0,549.0 628.0,545.5 622.0,542.0" fill="#ffef00" stroke="none" stroke-width="0" />
<polygon points="628.6,541.5 631.0,540.0 632.5,547.0 635.5,553.0 636.5,560.0 634.5,560.0 631.5,552.4 629.0,547.0" fill="#000" stroke="#000" stroke-width="0.8" />
<polyline points="596.5,505.0 598.0,509.0 596.5,513.0" fill="none" stroke="#ffef00" stroke-width="1.6"/>
<polygon points="556.0,437.5 560.0,439.0 563.5,444.0 565.5,450.0 562.5,449.0 558.5,443.5" fill="#ff7000" stroke="none" stroke-width="0" />
<polygon points="638.0,580.0 643.0,594.0 650.0,605.0 656.0,605.0 668.0,608.0 680.0,615.0 686.6,620.6 688.0,626.0 686.6,629.0 683.0,625.0 677.0,620.0 670.0,616.5 663.0,614.0 656.0,613.5 650.0,614.0 646.0,608.0 642.0,601.0 639.0,592.0 637.0,584.0" fill="#000" stroke="#000" stroke-width="1.2" />
<path d="M658,607h1v1h-1zM682,620h1v1h-1zM673,612h1v1h-1zM672,614h1v1h-1zM685,620h1v1h-1zM677,619h1v1h-1zM682,621h1v1h-1zM663,613h1v1h-1zM652,611h1v1h-1zM673,616h1v1h-1zM674,615h1v1h-1zM670,611h1v1h-1z" fill="#fff"/>
<path d="M659,602h1v1h-1zM677,609h1v1h-1zM672,609h1v1h-1zM670,607h1v1h-1zM680,612h1v1h-1zM650,604h1v1h-1zM643,595h1v1h-1zM682,616h1v1h-1zM662,605h1v1h-1zM644,593h1v1h-1zM659,605h1v1h-1zM681,612h1v1h-1zM644,593h1v1h-1zM660,604h1v1h-1zM649,601h1v1h-1zM656,603h1v1h-1zM683,617h1v1h-1zM655,604h1v1h-1zM683,614h1v1h-1zM660,603h1v1h-1zM682,615h1v1h-1zM682,615h1v1h-1zM666,606h1v1h-1zM652,602h1v1h-1zM660,604h1v1h-1zM651,602h1v1h-1zM651,602h1v1h-1zM680,611h1v1h-1zM675,611h1v1h-1zM648,600h1v1h-1zM660,602h1v1h-1zM658,604h1v1h-1zM651,604h1v1h-1zM649,601h1v1h-1zM647,598h1v1h-1zM661,606h1v1h-1zM655,604h1v1h-1zM662,606h1v1h-1zM660,605h1v1h-1zM659,601h1v1h-1z" fill="#000"/>
<polyline points="688.0,622.0 692.0,619.0" fill="none" stroke="#000" stroke-width="1.4"/>
<polyline points="690.0,628.0 694.0,625.0" fill="none" stroke="#000" stroke-width="1.4"/>
<polygon points="696.0,643.0 699.0,641.5 701.5,638.5 704.0,641.0 708.0,642.0 714.0,643.0 713.0,645.5 707.0,645.0 703.0,646.5 699.0,645.5" fill="#000" stroke="#000" stroke-width="0.8" />
<polygon points="704.5,664.0 710.0,664.0 716.0,667.0 722.0,672.0 726.5,678.0 726.0,683.0 721.0,684.0 714.0,682.0 709.0,677.0 705.5,670.0" fill="#000" stroke="#000" stroke-width="1.0" />
<path d="M720,676h1v1h-1zM712,671h1v1h-1zM714,670h1v1h-1zM717,669h1v1h-1zM710,669h1v1h-1zM710,678h1v1h-1zM710,674h1v1h-1zM721,675h1v1h-1zM713,675h1v1h-1zM721,673h1v1h-1zM720,671h1v1h-1zM720,672h1v1h-1zM714,679h1v1h-1zM722,680h1v1h-1zM718,674h1v1h-1zM720,677h1v1h-1zM722,680h1v1h-1zM711,673h1v1h-1zM719,671h1v1h-1zM711,668h1v1h-1zM718,682h1v1h-1zM720,674h1v1h-1zM719,673h1v1h-1zM723,682h1v1h-1zM710,668h1v1h-1zM713,678h1v1h-1zM714,668h1v1h-1zM717,675h1v1h-1zM714,672h1v1h-1zM721,680h1v1h-1zM713,673h1v1h-1zM718,679h1v1h-1zM720,676h1v1h-1zM711,669h1v1h-1zM716,669h1v1h-1zM714,668h1v1h-1zM718,670h1v1h-1zM719,672h1v1h-1z" fill="#fff"/>
<polygon points="741.0,690.0 748.0,687.0 755.0,683.0 761.0,681.5 767.5,684.5 767.5,690.0 766.8,698.0 763.0,704.0 756.0,708.0 750.0,711.0 746.0,707.0 743.0,700.0 741.5,694.0" fill="#fff" stroke="none" stroke-width="0" />
<path d="M746,695h1v1h-1zM750,688h1v1h-1zM763,690h1v1h-1zM746,707h1v1h-1zM753,693h1v1h-1zM761,692h1v1h-1zM742,697h1v1h-1zM757,699h1v1h-1zM752,706h1v1h-1zM759,686h1v1h-1zM749,703h1v1h-1zM748,696h1v1h-1zM754,705h1v1h-1zM760,703h1v1h-1zM750,705h1v1h-1zM761,704h1v1h-1zM765,684h1v1h-1zM764,693h1v1h-1zM758,688h1v1h-1zM755,687h1v1h-1zM750,692h1v1h-1zM757,705h1v1h-1zM750,700h1v1h-1zM749,689h1v1h-1zM763,690h1v1h-1zM743,691h1v1h-1zM759,687h1v1h-1zM759,697h1v1h-1zM758,686h1v1h-1zM749,693h1v1h-1zM751,690h1v1h-1zM749,703h1v1h-1zM751,709h1v1h-1zM746,693h1v1h-1zM758,686h1v1h-1zM747,701h1v1h-1zM764,690h1v1h-1zM745,691h1v1h-1zM765,685h1v1h-1zM756,692h1v1h-1zM757,687h1v1h-1zM756,707h1v1h-1zM762,699h1v1h-1zM753,698h1v1h-1zM758,694h1v1h-1zM757,693h1v1h-1zM750,687h1v1h-1zM756,698h1v1h-1zM756,694h1v1h-1zM755,698h1v1h-1zM764,685h1v1h-1zM759,690h1v1h-1zM751,707h1v1h-1zM753,688h1v1h-1zM762,700h1v1h-1zM760,696h1v1h-1zM762,702h1v1h-1zM747,705h1v1h-1zM752,697h1v1h-1zM762,686h1v1h-1zM747,700h1v1h-1zM742,697h1v1h-1zM760,695h1v1h-1zM747,704h1v1h-1zM762,704h1v1h-1zM754,708h1v1h-1zM760,685h1v1h-1zM741,691h1v1h-1zM750,706h1v1h-1zM746,699h1v1h-1zM762,702h1v1h-1zM745,701h1v1h-1zM749,690h1v1h-1zM756,689h1v1h-1zM756,701h1v1h-1zM758,694h1v1h-1zM764,699h1v1h-1zM749,686h1v1h-1zM759,691h1v1h-1zM748,693h1v1h-1zM744,699h1v1h-1zM751,705h1v1h-1zM751,694h1v1h-1zM749,702h1v1h-1zM746,698h1v1h-1z" fill="#000"/>
<polygon points="756.0,679.5 760.0,678.0 765.5,678.5 768.0,681.0 765.0,683.5 759.0,683.5" fill="#000" stroke="#000" stroke-width="0.6" />
<path d="M733,698h1v1h-1zM734,698h1v1h-1zM739,693h1v1h-1zM743,692h1v1h-1zM740,695h1v1h-1zM736,688h1v1h-1zM735,691h1v1h-1zM736,699h1v1h-1zM734,696h1v1h-1zM739,690h1v1h-1zM735,689h1v1h-1zM742,691h1v1h-1zM735,692h1v1h-1zM741,698h1v1h-1z" fill="#000"/>
<polygon points="637.5,752.5 641.0,745.0 650.0,737.5 658.0,733.0 665.0,730.0 675.0,728.0 685.0,728.0 692.5,732.5 692.5,738.0 691.0,742.5 684.0,746.0 675.0,749.0 665.0,752.0 655.0,755.0 647.0,757.0 640.0,757.5" fill="#fff" stroke="none" stroke-width="0" />
<path d="M670,744h1v1h-1zM643,754h1v1h-1zM658,749h1v1h-1zM674,738h1v1h-1zM663,738h1v1h-1zM663,737h1v1h-1zM674,746h1v1h-1zM660,747h1v1h-1zM649,739h1v1h-1zM678,730h1v1h-1zM647,747h1v1h-1zM651,752h1v1h-1zM644,742h1v1h-1zM638,753h1v1h-1zM667,744h1v1h-1zM644,751h1v1h-1zM654,743h1v1h-1zM644,745h1v1h-1zM666,736h1v1h-1zM680,735h1v1h-1zM649,741h1v1h-1zM668,741h1v1h-1zM684,731h1v1h-1zM684,732h1v1h-1zM660,746h1v1h-1zM646,752h1v1h-1zM646,743h1v1h-1zM644,755h1v1h-1zM656,742h1v1h-1zM659,736h1v1h-1zM678,735h1v1h-1zM658,740h1v1h-1zM664,738h1v1h-1zM661,741h1v1h-1zM640,753h1v1h-1zM668,739h1v1h-1zM658,737h1v1h-1zM664,734h1v1h-1zM679,742h1v1h-1zM658,745h1v1h-1zM658,737h1v1h-1zM671,745h1v1h-1zM655,742h1v1h-1zM666,750h1v1h-1zM681,740h1v1h-1zM685,740h1v1h-1zM653,748h1v1h-1zM683,737h1v1h-1zM655,752h1v1h-1zM641,750h1v1h-1zM640,746h1v1h-1zM673,728h1v1h-1zM678,740h1v1h-1zM688,730h1v1h-1zM680,741h1v1h-1zM679,739h1v1h-1zM662,741h1v1h-1zM678,730h1v1h-1zM644,753h1v1h-1zM674,744h1v1h-1zM649,740h1v1h-1zM644,754h1v1h-1zM661,739h1v1h-1zM665,748h1v1h-1zM659,751h1v1h-1zM643,750h1v1h-1zM647,745h1v1h-1zM649,738h1v1h-1zM670,743h1v1h-1zM659,745h1v1h-1zM684,738h1v1h-1zM670,742h1v1h-1zM691,737h1v1h-1zM676,735h1v1h-1zM652,749h1v1h-1zM669,735h1v1h-1zM641,752h1v1h-1zM658,749h1v1h-1zM661,746h1v1h-1zM688,741h1v1h-1zM664,734h1v1h-1zM679,731h1v1h-1zM654,753h1v1h-1zM639,748h1v1h-1zM669,744h1v1h-1zM682,730h1v1h-1zM681,734h1v1h-1zM648,744h1v1h-1zM671,731h1v1h-1zM680,745h1v1h-1zM675,738h1v1h-1zM653,753h1v1h-1zM677,735h1v1h-1zM667,735h1v1h-1zM654,735h1v1h-1zM645,742h1v1h-1zM652,736h1v1h-1zM653,743h1v1h-1zM686,732h1v1h-1zM671,744h1v1h-1zM678,744h1v1h-1zM680,735h1v1h-1zM640,756h1v1h-1zM657,751h1v1h-1zM650,741h1v1h-1zM658,749h1v1h-1zM669,738h1v1h-1zM644,756h1v1h-1zM674,730h1v1h-1zM687,731h1v1h-1zM669,731h1v1h-1zM692,737h1v1h-1zM685,729h1v1h-1zM674,730h1v1h-1zM666,730h1v1h-1zM666,733h1v1h-1zM666,738h1v1h-1zM665,733h1v1h-1zM676,740h1v1h-1zM664,730h1v1h-1zM664,744h1v1h-1zM656,749h1v1h-1zM670,748h1v1h-1zM671,746h1v1h-1zM666,745h1v1h-1zM683,740h1v1h-1zM656,738h1v1h-1zM638,751h1v1h-1zM652,745h1v1h-1zM666,738h1v1h-1zM675,741h1v1h-1zM650,754h1v1h-1zM651,742h1v1h-1zM681,737h1v1h-1zM651,747h1v1h-1zM652,743h1v1h-1zM652,754h1v1h-1zM654,737h1v1h-1zM681,744h1v1h-1zM642,750h1v1h-1zM658,738h1v1h-1zM656,751h1v1h-1zM658,736h1v1h-1zM670,750h1v1h-1zM688,732h1v1h-1zM649,754h1v1h-1zM645,749h1v1h-1zM690,733h1v1h-1zM645,748h1v1h-1zM690,741h1v1h-1zM644,743h1v1h-1zM667,745h1v1h-1zM679,743h1v1h-1zM655,750h1v1h-1zM688,743h1v1h-1zM669,736h1v1h-1zM663,746h1v1h-1zM684,741h1v1h-1zM648,756h1v1h-1zM679,740h1v1h-1zM647,750h1v1h-1zM650,751h1v1h-1zM665,747h1v1h-1zM663,733h1v1h-1zM672,739h1v1h-1zM664,746h1v1h-1zM655,738h1v1h-1zM660,744h1v1h-1zM663,737h1v1h-1zM688,735h1v1h-1zM686,732h1v1h-1zM677,735h1v1h-1zM670,732h1v1h-1zM690,736h1v1h-1zM643,748h1v1h-1zM657,744h1v1h-1zM666,739h1v1h-1zM652,745h1v1h-1zM672,741h1v1h-1zM664,747h1v1h-1zM691,736h1v1h-1zM681,735h1v1h-1zM652,755h1v1h-1zM665,740h1v1h-1zM664,742h1v1h-1zM653,753h1v1h-1zM665,738h1v1h-1zM682,733h1v1h-1zM682,737h1v1h-1zM651,755h1v1h-1zM656,751h1v1h-1zM641,748h1v1h-1zM685,737h1v1h-1zM648,748h1v1h-1zM672,731h1v1h-1zM677,729h1v1h-1zM673,742h1v1h-1zM659,738h1v1h-1zM681,734h1v1h-1zM676,743h1v1h-1zM655,736h1v1h-1zM648,747h1v1h-1zM688,736h1v1h-1zM656,736h1v1h-1zM666,742h1v1h-1zM639,753h1v1h-1zM667,742h1v1h-1zM678,735h1v1h-1zM648,745h1v1h-1zM651,737h1v1h-1zM657,743h1v1h-1zM660,740h1v1h-1zM650,742h1v1h-1zM690,731h1v1h-1zM661,748h1v1h-1zM679,744h1v1h-1zM687,735h1v1h-1zM667,733h1v1h-1zM680,729h1v1h-1zM646,744h1v1h-1zM652,749h1v1h-1zM677,737h1v1h-1zM676,741h1v1h-1zM686,729h1v1h-1zM676,741h1v1h-1zM669,750h1v1h-1zM660,747h1v1h-1zM675,746h1v1h-1zM640,749h1v1h-1zM663,731h1v1h-1zM664,745h1v1h-1zM650,753h1v1h-1zM665,740h1v1h-1zM652,751h1v1h-1zM676,741h1v1h-1zM658,741h1v1h-1zM662,737h1v1h-1zM672,740h1v1h-1zM654,751h1v1h-1zM663,742h1v1h-1zM686,741h1v1h-1zM660,748h1v1h-1zM678,736h1v1h-1zM674,748h1v1h-1zM661,747h1v1h-1zM650,751h1v1h-1zM656,749h1v1h-1zM680,735h1v1h-1zM671,734h1v1h-1zM648,755h1v1h-1zM641,745h1v1h-1zM659,745h1v1h-1zM679,745h1v1h-1zM651,749h1v1h-1zM668,744h1v1h-1zM680,737h1v1h-1zM653,745h1v1h-1zM667,742h1v1h-1zM647,746h1v1h-1zM653,752h1v1h-1zM661,732h1v1h-1zM671,741h1v1h-1zM657,750h1v1h-1zM683,739h1v1h-1zM653,738h1v1h-1zM658,747h1v1h-1zM652,742h1v1h-1zM676,728h1v1h-1zM649,749h1v1h-1zM676,738h1v1h-1zM686,734h1v1h-1zM664,737h1v1h-1zM662,752h1v1h-1zM669,746h1v1h-1zM692,734h1v1h-1zM650,746h1v1h-1zM646,756h1v1h-1zM656,741h1v1h-1zM661,752h1v1h-1zM676,734h1v1h-1zM650,738h1v1h-1zM650,749h1v1h-1zM640,748h1v1h-1zM641,753h1v1h-1zM667,745h1v1h-1zM674,748h1v1h-1zM655,742h1v1h-1zM653,744h1v1h-1zM657,738h1v1h-1zM651,736h1v1h-1zM655,745h1v1h-1zM684,742h1v1h-1zM666,737h1v1h-1zM672,747h1v1h-1zM676,743h1v1h-1zM660,739h1v1h-1zM665,742h1v1h-1zM667,743h1v1h-1zM681,746h1v1h-1zM675,748h1v1h-1zM678,741h1v1h-1zM659,744h1v1h-1zM666,737h1v1h-1zM685,743h1v1h-1zM673,731h1v1h-1zM661,750h1v1h-1zM670,745h1v1h-1zM647,741h1v1h-1zM649,741h1v1h-1zM667,738h1v1h-1zM669,746h1v1h-1zM674,734h1v1h-1zM642,750h1v1h-1zM668,731h1v1h-1zM673,735h1v1h-1zM679,729h1v1h-1zM639,751h1v1h-1zM655,735h1v1h-1zM683,733h1v1h-1zM672,746h1v1h-1zM668,739h1v1h-1zM683,735h1v1h-1zM677,733h1v1h-1zM672,739h1v1h-1zM677,742h1v1h-1zM659,743h1v1h-1zM692,739h1v1h-1zM647,743h1v1h-1zM665,750h1v1h-1zM669,735h1v1h-1zM648,749h1v1h-1zM642,753h1v1h-1zM640,752h1v1h-1zM686,739h1v1h-1zM649,747h1v1h-1zM667,739h1v1h-1zM646,745h1v1h-1zM665,739h1v1h-1zM671,733h1v1h-1zM659,744h1v1h-1zM689,731h1v1h-1zM659,749h1v1h-1zM658,749h1v1h-1zM653,736h1v1h-1zM648,739h1v1h-1zM657,746h1v1h-1zM669,731h1v1h-1zM680,729h1v1h-1zM672,736h1v1h-1zM655,746h1v1h-1zM648,741h1v1h-1zM652,738h1v1h-1zM676,733h1v1h-1zM684,733h1v1h-1zM668,738h1v1h-1zM673,729h1v1h-1zM677,734h1v1h-1zM664,749h1v1h-1zM661,737h1v1h-1zM659,737h1v1h-1zM678,741h1v1h-1zM675,732h1v1h-1zM649,746h1v1h-1zM660,733h1v1h-1zM678,745h1v1h-1zM673,728h1v1h-1zM667,731h1v1h-1zM686,744h1v1h-1zM653,751h1v1h-1zM672,742h1v1h-1zM652,746h1v1h-1zM666,743h1v1h-1zM671,748h1v1h-1zM653,741h1v1h-1zM664,739h1v1h-1zM664,738h1v1h-1zM675,732h1v1h-1zM646,740h1v1h-1zM662,736h1v1h-1zM686,742h1v1h-1zM641,748h1v1h-1zM649,741h1v1h-1zM671,729h1v1h-1zM689,738h1v1h-1zM645,751h1v1h-1zM673,742h1v1h-1zM671,742h1v1h-1zM649,747h1v1h-1zM642,755h1v1h-1zM655,749h1v1h-1zM645,744h1v1h-1zM651,744h1v1h-1zM656,740h1v1h-1zM663,731h1v1h-1zM683,742h1v1h-1zM673,738h1v1h-1zM658,733h1v1h-1zM645,749h1v1h-1zM670,746h1v1h-1zM680,746h1v1h-1zM660,747h1v1h-1zM658,740h1v1h-1zM658,747h1v1h-1zM657,738h1v1h-1zM659,747h1v1h-1zM651,737h1v1h-1zM643,751h1v1h-1zM688,737h1v1h-1zM645,747h1v1h-1zM687,730h1v1h-1zM652,750h1v1h-1zM650,754h1v1h-1zM657,742h1v1h-1zM661,736h1v1h-1zM678,728h1v1h-1zM681,746h1v1h-1zM670,737h1v1h-1zM644,752h1v1h-1zM642,744h1v1h-1zM660,732h1v1h-1zM679,747h1v1h-1zM664,751h1v1h-1zM674,732h1v1h-1zM667,740h1v1h-1zM666,749h1v1h-1zM675,745h1v1h-1zM690,737h1v1h-1zM662,741h1v1h-1zM669,736h1v1h-1zM680,737h1v1h-1zM643,754h1v1h-1zM680,745h1v1h-1zM674,740h1v1h-1zM666,734h1v1h-1zM663,735h1v1h-1zM675,731h1v1h-1zM667,745h1v1h-1zM683,739h1v1h-1zM646,752h1v1h-1zM691,733h1v1h-1zM689,734h1v1h-1zM650,755h1v1h-1zM688,742h1v1h-1zM651,747h1v1h-1zM662,741h1v1h-1zM663,739h1v1h-1zM663,748h1v1h-1zM677,737h1v1h-1zM669,732h1v1h-1zM658,737h1v1h-1zM645,745h1v1h-1zM684,739h1v1h-1zM638,750h1v1h-1zM650,749h1v1h-1zM681,730h1v1h-1zM654,741h1v1h-1zM657,742h1v1h-1zM681,735h1v1h-1zM689,733h1v1h-1zM682,731h1v1h-1zM654,741h1v1h-1zM649,754h1v1h-1zM685,743h1v1h-1zM654,740h1v1h-1zM683,730h1v1h-1zM651,749h1v1h-1zM656,734h1v1h-1zM660,744h1v1h-1zM659,744h1v1h-1zM675,738h1v1h-1zM665,739h1v1h-1zM654,736h1v1h-1zM686,738h1v1h-1zM662,743h1v1h-1zM681,744h1v1h-1zM665,738h1v1h-1zM679,743h1v1h-1zM675,741h1v1h-1zM667,745h1v1h-1zM685,729h1v1h-1zM679,746h1v1h-1zM647,744h1v1h-1zM645,750h1v1h-1zM664,750h1v1h-1zM654,754h1v1h-1zM680,736h1v1h-1zM642,749h1v1h-1zM678,729h1v1h-1zM653,748h1v1h-1zM660,742h1v1h-1zM661,745h1v1h-1zM663,747h1v1h-1zM671,738h1v1h-1zM649,749h1v1h-1zM684,729h1v1h-1zM677,742h1v1h-1zM666,736h1v1h-1zM666,747h1v1h-1zM655,747h1v1h-1zM669,730h1v1h-1zM684,729h1v1h-1zM641,749h1v1h-1zM675,747h1v1h-1zM676,739h1v1h-1zM673,730h1v1h-1zM682,741h1v1h-1zM649,741h1v1h-1zM675,744h1v1h-1zM659,735h1v1h-1zM660,748h1v1h-1zM639,754h1v1h-1zM671,749h1v1h-1zM671,738h1v1h-1zM674,729h1v1h-1zM674,746h1v1h-1zM671,747h1v1h-1zM687,739h1v1h-1zM659,736h1v1h-1zM675,730h1v1h-1zM654,739h1v1h-1z" fill="#000"/>
<polygon points="702.5,741.0 706.0,737.0 713.0,734.0 721.0,731.0 728.0,729.0 729.5,731.0 724.0,735.0 716.0,738.0 709.0,741.5 704.0,742.5" fill="#fff" stroke="none" stroke-width="0" />
<path d="M706,737h1v1h-1zM708,736h1v1h-1zM710,735h1v1h-1zM717,732h1v1h-1zM707,736h1v1h-1zM716,732h1v1h-1zM704,738h1v1h-1zM711,737h1v1h-1zM711,738h1v1h-1zM709,740h1v1h-1zM728,730h1v1h-1zM704,741h1v1h-1zM711,739h1v1h-1zM718,734h1v1h-1zM717,732h1v1h-1zM716,734h1v1h-1zM726,729h1v1h-1zM721,732h1v1h-1zM722,732h1v1h-1zM704,741h1v1h-1zM714,737h1v1h-1zM710,740h1v1h-1zM717,736h1v1h-1zM721,732h1v1h-1zM710,736h1v1h-1zM705,738h1v1h-1zM707,739h1v1h-1zM705,740h1v1h-1zM719,735h1v1h-1zM706,737h1v1h-1zM703,741h1v1h-1zM724,732h1v1h-1zM710,737h1v1h-1zM704,738h1v1h-1zM706,736h1v1h-1zM718,734h1v1h-1zM728,731h1v1h-1zM703,740h1v1h-1zM726,731h1v1h-1zM709,737h1v1h-1z" fill="#000"/>
<polygon points="737.5,723.0 741.0,721.5 742.0,723.0 739.0,725.0" fill="#fff" stroke="none" stroke-width="0" />
<polygon points="747.5,717.0 750.0,715.5 751.0,717.0 748.5,719.0" fill="#fff" stroke="none" stroke-width="0" />
<polygon points="529.5,748.0 533.0,747.5 534.0,751.0 530.5,752.0" fill="#fff" stroke="none" stroke-width="0" />
<polygon points="603.0,751.5 608.5,751.0 609.0,756.0 604.0,756.5" fill="#fff" stroke="#000" stroke-width="1.0" />
<path d="M637,757h1v1h-1zM616,756h1v1h-1zM616,757h1v1h-1zM615,758h1v1h-1zM629,758h1v1h-1zM618,759h1v1h-1zM626,752h1v1h-1zM628,753h1v1h-1zM610,750h1v1h-1zM627,752h1v1h-1zM610,757h1v1h-1zM611,757h1v1h-1zM616,753h1v1h-1zM637,758h1v1h-1z" fill="#000"/>
<path d="M704,744h1v1h-1zM701,744h1v1h-1zM701,739h1v1h-1zM697,737h1v1h-1zM700,735h1v1h-1zM701,743h1v1h-1zM702,735h1v1h-1zM694,737h1v1h-1zM699,743h1v1h-1zM700,739h1v1h-1z" fill="#000"/>
<path d="M117.1,129.5L112.4,127.5M132.6,129.5L123.1,127.0M132.6,147.1L126.9,145.6M148.2,129.5L140.7,126.3M148.2,147.1L141.4,145.1M148.2,164.7L144.0,165.2M163.7,129.5L158.6,125.7M163.7,147.1L159.3,142.7M163.7,164.7L159.3,159.6M179.2,129.5L172.4,126.0M179.2,147.1L180.6,142.0M179.2,164.7L176.7,157.2M179.2,182.3L176.7,177.2M194.7,129.5L187.9,126.8M194.7,147.1L192.7,142.8M194.7,164.7L195.7,161.3M194.7,182.3L192.0,173.7M194.7,199.9L192.5,193.2M210.2,129.5L203.4,126.0M210.2,147.1L206.4,138.9M210.2,164.7L210.8,159.7M210.2,182.3L210.8,176.0M210.2,199.9L207.5,191.5M210.2,217.5L207.5,210.0M225.8,129.5L221.2,129.2M225.8,147.1L223.2,138.9M225.8,164.7L221.3,157.5M225.8,182.3L226.7,178.6M225.8,199.9L226.8,194.9M225.8,217.5L224.1,208.9M241.3,147.1L238.8,139.6M241.3,164.7L237.9,159.1M241.3,182.3L238.5,171.9M241.3,199.9L242.4,193.2M241.3,217.5L241.3,210.0M241.3,235.1L236.9,227.8M256.8,147.1L254.9,143.2M256.8,164.7L254.1,159.7M256.8,182.3L255.1,176.0M256.8,199.9L255.7,190.4M256.8,217.5L257.7,208.9M256.8,235.1L255.9,229.5M256.8,252.7L251.2,245.2M272.3,182.3L267.4,158.3M271.5,165.7L267.4,158.3L266.6,166.7M272.3,199.9L271.2,189.9M272.3,217.5L266.7,208.8M272.3,235.1L271.8,229.5M272.3,252.7L270.4,246.2M287.8,199.9L284.5,191.1M287.8,217.5L281.8,205.8M287.8,235.1L285.1,226.7M287.8,252.7L289.5,246.2M287.8,270.3L286.8,264.2M287.8,287.9L282.6,277.7M303.4,217.5L301.1,209.3M303.4,235.1L300.0,224.8M303.4,252.7L303.0,245.7M303.4,270.3L305.6,265.2M303.4,287.9L303.7,281.9M303.4,305.5L300.9,295.5M318.9,217.5L318.9,211.7M318.9,235.1L318.3,226.7M318.9,252.7L317.5,242.5M318.9,270.3L318.7,266.7M318.9,287.9L322.1,283.1M318.9,305.5L318.7,297.7M318.9,323.1L316.9,311.0M334.4,217.5L334.8,214.7M334.4,235.1L336.1,228.4M334.4,252.7L335.3,246.4M334.4,270.3L335.5,263.1M334.4,287.9L337.1,281.4M334.4,305.5L335.8,298.3M334.4,323.1L334.2,314.9M334.4,340.7L333.3,330.7M334.4,358.3L333.0,346.3M349.9,199.9L350.4,199.1M349.9,217.5L351.5,213.7M349.9,235.1L351.6,230.8M349.9,252.7L353.3,246.9M349.9,270.3L354.3,264.2M349.9,287.9L353.3,281.4M349.9,305.5L351.3,299.4M349.9,323.1L351.3,316.1M349.9,340.7L349.7,333.5M349.9,358.3L348.6,348.5M349.9,375.9L347.9,363.3M365.4,182.3L365.9,181.7M365.4,199.9L366.2,199.3M365.4,217.5L367.0,213.7M365.4,235.1L368.2,229.0M365.4,252.7L369.9,246.9M365.4,270.3L369.9,264.2M365.4,287.9L368.8,282.0M365.4,305.5L369.1,299.9M365.4,323.1L368.6,317.8M365.4,340.7L366.3,334.0M365.4,358.3L365.4,351.8M365.4,375.9L363.0,366.4M365.4,393.5L362.8,381.4M381.0,182.3L381.5,181.5M381.0,199.9L379.2,196.9M381.0,217.5L381.9,213.8M381.0,235.1L385.3,229.5M381.0,252.7L385.3,245.9M381.0,270.3L384.8,263.1M381.0,287.9L385.9,281.4M381.0,305.5L386.3,299.9M381.0,323.1L384.6,317.8M381.0,340.7L384.6,335.7M381.0,358.3L383.0,353.5M381.0,375.9L381.3,369.8M381.0,393.5L379.1,384.3M381.0,411.1L379.0,400.1M381.0,428.7L378.9,415.6M381.0,446.3L379.8,434.1M381.0,463.9L379.5,451.7M396.5,164.7L397.5,162.2M396.5,182.3L397.0,181.5M396.5,199.9L395.7,195.9M396.5,217.5L396.5,214.7M396.5,235.1L400.4,229.5M396.5,252.7L400.7,245.9M396.5,270.3L399.8,262.5M396.5,287.9L400.9,280.9M396.5,305.5L401.8,298.8M396.5,323.1L401.2,316.1M396.5,340.7L400.2,335.1M396.5,358.3L399.1,353.5M396.5,375.9L397.4,369.8M396.5,393.5L396.5,386.0M396.5,411.1L395.1,402.1M396.5,428.7L395.7,421.0M396.5,446.3L395.4,437.9M396.5,463.9L394.4,454.6M396.5,481.5L394.3,469.2M396.5,499.1L394.3,486.0M396.5,516.7L394.3,503.9M412.0,164.7L412.5,164.1M412.0,182.3L412.8,181.8M412.0,199.9L412.8,197.3M412.0,217.5L412.6,214.6M412.0,235.1L415.9,230.1M412.0,252.7L415.9,246.9M412.0,270.3L416.4,264.2M412.0,287.9L417.6,281.4M412.0,305.5L417.3,299.9M412.0,323.1L417.3,317.2M412.0,340.7L417.3,334.6M412.0,358.3L415.1,350.8M412.0,375.9L415.1,368.6M412.0,393.5L415.1,386.5M412.0,411.1L414.6,404.3M412.0,428.7L412.9,421.0M412.0,446.3L412.7,437.9M412.0,463.9L412.4,456.2M412.0,481.5L412.2,477.9M412.0,499.1L411.1,494.5M412.0,516.7L408.7,510.9M412.0,534.3L408.7,528.2M412.0,551.9L408.7,546.1M412.0,569.5L412.0,568.3M412.0,587.1L412.5,586.1M412.0,604.7L412.5,603.7M412.0,622.3L412.0,621.3M412.0,639.9L411.5,638.9M412.0,657.5L413.0,657.5M412.0,675.1L412.5,674.1M412.0,692.7L413.7,690.5M427.5,164.7L429.1,164.7M427.5,182.3L428.3,181.8M427.5,199.9L428.3,195.9M427.5,217.5L429.1,213.7M427.5,235.1L430.2,230.7M427.5,252.7L430.6,248.0M427.5,270.3L431.9,265.3M427.5,287.9L433.1,282.9M427.5,305.5L434.0,299.9M427.5,323.1L433.4,318.3M427.5,340.7L432.8,335.1M427.5,358.3L432.3,352.4M427.5,375.9L432.3,369.8M427.5,393.5L431.7,387.0M427.5,411.1L432.3,403.2M427.5,428.7L429.4,421.9M427.5,446.3L429.3,435.3M427.5,463.9L429.2,454.6M427.5,481.5L429.4,473.1M427.5,499.1L430.5,491.4M427.5,516.7L429.4,511.5M427.5,534.3L428.8,530.1M427.5,551.9L428.9,547.3M427.5,569.5L428.4,566.3M427.5,587.1L429.8,582.7M427.5,604.7L430.5,600.7M427.5,622.3L429.8,618.7M427.5,639.9L429.0,637.4M427.5,657.5L427.8,656.5M427.5,675.1L427.5,673.9M427.5,692.7L428.3,687.7M427.5,710.3L429.9,707.8M443.0,164.7L444.6,164.7M443.0,182.3L443.6,181.7M443.0,199.9L444.3,195.2M443.0,217.5L444.4,215.0M443.0,235.1L446.2,230.4M443.0,252.7L445.3,248.0M443.0,270.3L446.6,265.9M443.0,287.9L446.9,283.1M443.0,305.5L449.5,300.5M443.0,323.1L450.0,317.8M443.0,340.7L450.0,335.1M443.0,358.3L449.5,352.4M443.0,375.9L449.0,369.8M443.0,393.5L448.3,387.6M443.0,411.1L449.0,405.0M443.0,428.7L447.7,421.9M443.0,446.3L447.7,437.9M443.0,463.9L447.4,451.4M443.0,481.5L446.3,468.9M443.0,499.1L447.4,478.1M448.1,485.5L447.4,478.1L443.9,484.6M443.0,516.7L446.8,504.6M443.0,534.3L446.0,525.5M443.0,551.9L446.0,543.3M443.0,569.5L445.8,560.7M443.0,587.1L445.1,577.6M443.0,604.7L446.2,595.9M443.0,622.3L445.8,616.0M443.0,639.9L446.2,631.5M443.0,657.5L445.8,647.7M443.0,675.1L443.0,662.6M443.0,692.7L443.0,681.5M443.0,710.3L446.5,696.7M443.0,727.9L443.0,718.7M458.6,182.3L460.1,182.3M458.6,199.9L459.7,196.3M458.6,217.5L461.9,213.7M458.6,235.1L461.0,232.1M458.6,252.7L460.7,248.8M458.6,270.3L461.3,265.9M458.6,287.9L463.0,283.1M458.6,305.5L463.3,299.9M458.6,323.1L464.5,317.8M458.6,340.7L465.6,335.1M458.6,358.3L466.0,352.4M458.6,375.9L464.5,369.1M458.6,393.5L463.9,386.5M458.6,411.1L465.0,404.3M458.6,428.7L465.4,421.9M458.6,446.3L466.4,437.5M458.6,463.9L464.9,456.2M458.6,481.5L464.9,474.7M458.6,499.1L463.8,491.4M458.6,516.7L462.6,508.7M458.6,534.3L462.4,521.9M458.6,551.9L463.8,531.9M464.1,539.0L463.8,531.9L460.0,538.0M458.6,569.5L460.2,558.3M458.6,587.1L461.8,576.7M458.6,604.7L459.6,593.2M458.6,622.3L463.3,609.3M458.6,639.9L463.0,629.6M458.6,657.5L462.4,648.3M458.6,675.1L460.1,666.3M458.6,692.7L458.6,681.5M458.6,710.3L458.6,696.8M458.6,727.9L463.1,709.4M463.5,716.0L463.1,709.4L459.7,715.0M474.1,199.9L475.4,196.9M474.1,217.5L475.7,214.2M474.1,235.1L476.6,232.6M474.1,252.7L476.2,250.2M474.1,270.3L476.5,265.9M474.1,287.9L478.5,283.7M474.1,305.5L479.4,300.5M474.1,323.1L478.8,317.8M474.1,340.7L478.3,335.1M474.1,358.3L481.1,353.0M474.1,375.9L481.6,370.3M474.1,393.5L481.1,387.0M474.1,411.1L481.1,404.3M474.1,428.7L482.9,421.7M474.1,446.3L483.0,438.6M474.1,463.9L482.2,457.3M474.1,481.5L482.1,475.9M474.1,499.1L481.6,492.6M474.1,516.7L480.4,508.7M474.1,534.3L478.8,528.2M474.1,551.9L479.3,545.1M474.1,569.5L477.9,562.4M474.1,587.1L477.3,579.1M474.1,604.7L476.8,595.9M474.1,622.3L476.8,613.2M474.1,639.9L477.3,631.1M474.1,657.5L477.9,648.3M474.1,675.1L475.7,664.8M474.1,692.7L474.1,683.2M474.1,710.3L474.1,700.8M474.1,727.9L479.8,705.9M480.1,713.7L479.8,705.9L475.7,712.6M474.1,745.5L475.1,735.7M489.6,235.1L493.6,232.5M489.6,252.7L493.6,250.3M489.6,270.3L492.5,268.7M489.6,287.9L494.0,284.1M489.6,305.5L494.0,301.4M489.6,323.1L493.8,317.8M489.6,340.7L492.7,335.1M489.6,358.3L494.4,353.0M489.6,375.9L495.5,370.8M489.6,393.5L496.6,388.7M489.6,411.1L496.6,406.0M489.6,428.7L498.2,423.9M489.6,446.3L498.3,440.1M489.6,463.9L497.1,456.7M489.6,481.5L499.0,475.2M489.6,499.1L498.3,493.0M489.6,516.7L498.2,511.5M489.6,534.3L496.4,527.6M489.6,551.9L495.4,545.1M489.6,569.5L494.8,563.5M489.6,587.1L495.4,581.3M489.6,604.7L495.4,598.0M489.6,622.3L494.3,615.5M489.6,639.9L494.3,631.5M489.6,657.5L494.3,649.3M489.6,675.1L493.7,666.1M489.6,692.7L491.0,683.2M489.6,710.3L490.1,699.6M489.6,727.9L495.2,708.3M495.3,715.3L495.2,708.3L491.4,714.2M489.6,745.5L498.0,726.5M497.2,733.6L498.0,726.5L493.3,731.9M505.1,252.7L509.6,252.2M505.1,270.3L509.6,267.9M505.1,287.9L509.5,284.7M505.1,305.5L509.5,300.7M505.1,323.1L508.8,317.2M505.1,340.7L508.8,334.6M505.1,358.3L508.8,352.4M505.1,375.9L510.4,369.8M505.1,393.5L511.0,387.0M505.1,411.1L509.9,405.5M505.1,428.7L511.0,423.3M505.1,446.3L512.6,441.7M505.1,463.9L513.3,458.5M505.1,481.5L513.9,475.3M505.1,499.1L513.3,493.1M505.1,516.7L513.8,511.5M505.1,534.3L512.6,527.6M505.1,551.9L511.0,545.6M505.1,569.5L511.0,563.0M505.1,587.1L511.6,581.3M505.1,604.7L511.6,598.6M505.1,622.3L511.0,615.5M505.1,639.9L511.0,632.7M505.1,657.5L510.4,650.5M505.1,675.1L509.9,666.1M505.1,692.7L509.2,683.7M505.1,710.3L510.2,698.7M505.1,727.9L509.2,715.5M505.1,745.5L517.7,725.9M515.6,733.6L517.7,725.9L511.6,731.1M505.1,763.1L505.1,755.6M520.6,252.7L521.6,252.4M520.6,270.3L524.6,269.1M520.6,287.9L524.9,284.7M520.6,305.5L524.2,300.7M520.6,323.1L524.3,317.2M520.6,340.7L523.8,334.6M520.6,358.3L522.7,351.8M520.6,375.9L524.9,369.8M520.6,393.5L523.8,387.6M520.6,411.1L524.3,406.5M520.6,428.7L524.9,423.3M520.6,446.3L526.6,441.2M520.6,463.9L526.6,459.5M520.6,481.5L527.6,477.5M520.6,499.1L527.6,494.7M520.6,516.7L528.1,513.2M520.6,534.3L528.8,529.9M520.6,551.9L527.1,546.1M520.6,569.5L527.1,563.5M520.6,587.1L527.1,580.8M520.6,604.7L527.1,599.1M520.6,622.3L527.1,617.1M520.6,639.9L525.9,633.2M520.6,657.5L527.6,650.5M520.6,675.1L527.6,667.8M520.6,692.7L526.9,683.6M520.6,710.3L531.6,693.3M529.7,700.0L531.6,693.3L526.3,697.8M520.6,727.9L535.3,710.4M532.3,717.7L535.3,710.4L528.7,714.7M520.6,745.5L536.0,723.1M533.2,732.1L536.0,723.1L528.7,728.9M520.6,763.1L524.9,755.6M536.2,252.7L540.5,251.7M536.2,270.3L541.9,267.4M536.2,287.9L542.9,284.4M536.2,305.5L544.8,300.7M536.2,323.1L544.8,317.7M536.2,340.7L542.6,334.6M536.2,358.3L543.0,352.4M536.2,375.9L537.0,369.8M536.2,411.1L539.7,408.4M536.2,428.7L538.2,424.0M536.2,446.3L539.0,443.1M536.2,463.9L541.4,461.2M536.2,481.5L541.9,478.6M536.2,499.1L543.0,496.2M536.2,516.7L543.0,512.6M536.2,534.3L543.0,529.9M536.2,551.9L541.9,548.4M536.2,569.5L542.5,564.1M536.2,587.1L541.9,581.3M536.2,604.7L541.4,598.6M536.2,622.3L541.9,616.0M536.2,639.9L541.4,632.1M536.2,657.5L541.5,648.1M536.2,675.1L543.0,667.1M536.2,692.7L544.1,683.4M536.2,710.3L549.2,696.3M546.3,702.2L549.2,696.3L543.4,699.6M536.2,727.9L552.2,715.9M548.1,721.5L552.2,715.9L545.7,718.2M536.2,745.5L549.2,731.5M546.3,737.4L549.2,731.5L543.4,734.8M536.2,763.1L553.7,750.5M549.2,756.4L553.7,750.5L546.6,752.9M551.7,446.3L552.7,444.7M551.7,463.9L554.1,462.3M551.7,481.5L556.4,479.5M551.7,499.1L558.0,497.5M551.7,516.7L558.5,515.3M551.7,534.3L557.5,532.6M551.7,551.9L556.4,548.9M551.7,569.5L558.5,566.8M551.7,587.1L556.9,581.9M551.7,604.7L557.5,599.1M551.7,622.3L558.0,616.5M551.7,639.9L558.0,632.7M551.7,657.5L557.5,650.5M551.7,675.1L558.5,667.1M551.7,692.7L560.3,684.1M551.7,710.3L560.9,701.1M551.7,727.9L560.6,716.9M551.7,745.5L568.5,728.7M564.6,736.0L568.5,728.7L561.2,732.5M551.7,763.1L572.7,758.1M566.3,761.9L572.7,758.1L565.2,757.6M551.7,780.7L551.7,777.2M567.2,481.5L571.0,479.7M567.2,499.1L571.8,498.4M567.2,516.7L572.5,515.6M567.2,534.3L573.1,533.2M567.2,551.9L573.7,550.5M567.2,569.5L573.1,567.5M567.2,587.1L574.2,584.7M567.2,604.7L574.2,600.8M567.2,622.3L574.2,617.1M567.2,639.9L574.7,633.8M567.2,657.5L574.2,650.5M567.2,675.1L573.7,667.2M567.2,692.7L574.8,685.1M567.2,710.3L579.8,695.6M577.1,701.7L579.8,695.6L574.1,699.2M567.2,727.9L581.2,712.5M578.1,719.0L581.2,712.5L575.0,716.2M567.2,745.5L575.9,739.3M567.2,763.1L570.9,762.2M567.2,780.7L570.5,779.9M582.7,499.1L584.7,499.1M582.7,516.7L586.8,514.3M582.7,534.3L586.5,534.1M582.7,551.9L587.4,553.2M582.7,569.5L588.6,570.7M582.7,587.1L590.9,585.2M582.7,604.7L590.2,600.8M582.7,622.3L590.2,617.1M582.7,639.9L590.2,634.9M582.7,657.5L591.0,651.0M582.7,675.1L590.4,667.0M582.7,692.7L590.3,685.1M582.7,710.3L590.6,701.3M582.7,727.9L596.7,714.6M593.5,720.4L596.7,714.6L590.7,717.6M582.7,745.5L587.0,739.4M582.7,763.1L582.0,758.1M582.7,780.7L586.2,779.3M598.2,551.9L602.2,553.2M598.2,569.5L603.5,570.7M598.2,587.1L606.1,585.9M598.2,604.7L606.1,602.7M598.2,622.3L606.1,619.7M598.2,639.9L606.5,636.3M598.2,657.5L607.0,653.4M598.2,675.1L606.1,668.7M598.2,692.7L605.6,686.5M598.2,710.3L605.7,704.6M598.2,727.9L605.7,721.1M598.2,745.5L602.3,739.4M598.2,763.1L592.5,754.5M598.2,780.7L602.7,778.8M613.8,551.9L616.5,552.7M613.8,569.5L619.1,569.1M613.8,587.1L619.9,586.6M613.8,604.7L620.9,604.7M613.8,622.3L621.9,621.6M613.8,639.9L620.9,637.7M613.8,657.5L622.8,654.2M613.8,675.1L621.4,670.6M613.8,692.7L620.9,688.9M613.8,710.3L621.6,705.5M613.8,727.9L619.7,722.2M613.8,745.5L614.9,737.3M613.8,763.1L609.2,756.4M613.8,780.7L618.7,778.8M629.3,551.9L631.3,552.4M629.3,569.5L633.3,570.5M629.3,587.1L632.5,587.7M629.3,604.7L635.0,606.2M629.3,622.3L636.9,623.0M629.3,639.9L638.3,639.6M629.3,657.5L639.3,657.0M629.3,675.1L638.3,673.5M629.3,692.7L637.4,689.3M629.3,710.3L637.4,707.4M629.3,727.9L636.5,723.6M629.3,745.5L631.3,736.5M629.3,763.1L623.6,759.3M629.3,780.7L635.1,777.8M644.8,622.3L663.6,632.1M656.4,630.8L663.6,632.1L658.4,627.0M644.8,639.9L664.3,644.1M657.4,644.7L664.3,644.1L658.3,640.7M644.8,657.5L658.0,658.2M644.8,675.1L656.1,673.4M644.8,692.7L653.8,690.3M644.8,710.3L653.8,707.9M644.8,727.9L653.0,724.5M644.8,763.1L640.6,760.8M644.8,780.7L653.0,776.4M660.3,622.3L670.6,620.2M660.3,639.9L679.6,639.9M673.3,641.9L679.6,639.9L673.3,637.9M660.3,657.5L673.5,657.0M660.3,675.1L672.1,673.0M660.3,692.7L670.1,691.3M660.3,710.3L670.3,707.9M660.3,727.9L668.8,725.0M660.3,763.1L659.3,758.1M660.3,780.7L670.7,775.2M675.8,622.3L679.8,621.3M675.8,639.9L686.0,639.9M675.8,657.5L686.0,657.0M675.8,675.1L686.8,673.2M675.8,692.7L685.6,689.8M675.8,710.3L686.6,706.8M675.8,763.1L677.8,760.3M691.4,657.5L695.5,657.5M691.4,675.1L698.6,672.4M691.4,692.7L698.6,689.3M691.4,710.3L695.0,704.2M691.4,727.9L679.9,698.5M686.6,707.0L679.9,698.5L680.7,709.4M691.4,763.1L697.5,757.4M706.9,692.7L713.5,689.2M706.9,710.3L703.1,698.9M706.9,727.9L715.2,695.3M715.8,706.9L715.2,695.3L709.1,705.2M706.9,745.5L701.6,739.4M706.9,763.1L724.9,749.1M720.4,755.5L724.9,749.1L717.5,751.9M722.4,710.3L715.6,698.6M722.4,727.9L703.4,729.6M709.5,727.1L703.4,729.6L709.8,731.0M722.4,745.5L726.6,739.4M722.4,763.1L741.2,748.4M736.5,755.2L741.2,748.4L733.5,751.3M737.9,710.3L732.2,699.5M737.9,727.9L730.4,719.8M737.9,745.5L757.2,726.0M752.8,734.4L757.2,726.0L748.9,730.5M753.4,727.9L762.4,718.4M769.0,710.3L773.3,703.4" fill="none" stroke="#000" stroke-width="1.7" shape-rendering="crispEdges"/>
<path d="M109.6,126.3L112.9,126.2L111.8,128.8ZM118.1,125.6L123.7,124.8L122.5,129.2ZM123.7,144.7L127.3,144.1L126.5,147.1ZM136.6,124.6L141.5,124.5L139.9,128.1ZM137.6,143.9L141.9,143.3L140.8,146.8ZM141.1,165.6L143.9,163.8L144.2,166.6ZM155.7,123.5L159.6,124.4L157.6,127.0ZM156.8,140.2L160.4,141.5L158.1,143.8ZM156.8,156.7L160.6,158.5L158.0,160.7ZM168.7,124.0L173.3,124.3L171.5,127.6ZM181.4,139.0L182.0,142.4L179.2,141.6ZM175.3,153.1L178.5,156.6L174.8,157.8ZM175.2,174.3L178.0,176.5L175.3,177.9ZM184.2,125.3L188.6,125.1L187.2,128.5ZM191.5,140.1L194.0,142.2L191.4,143.4ZM196.5,158.4L197.0,161.7L194.3,160.9ZM190.5,169.1L194.0,173.1L190.0,174.4ZM191.2,189.5L194.2,192.7L190.8,193.8ZM199.7,124.0L204.3,124.3L202.6,127.6ZM204.4,134.6L208.4,138.0L204.5,139.8ZM211.1,156.7L212.2,159.8L209.4,159.5ZM211.1,172.4L212.4,176.1L209.1,175.8ZM206.1,187.0L209.5,190.9L205.5,192.2ZM206.0,205.9L209.4,209.4L205.7,210.7ZM218.2,129.0L221.3,127.8L221.1,130.6ZM221.9,134.5L225.2,138.3L221.3,139.5ZM218.9,153.6L223.1,156.4L219.6,158.6ZM227.5,175.7L228.1,179.0L225.4,178.3ZM227.5,191.9L228.2,195.2L225.5,194.6ZM223.1,204.2L226.1,208.5L222.0,209.3ZM237.4,135.5L240.6,139.0L236.9,140.2ZM236.1,156.0L239.4,158.3L236.5,160.0ZM237.1,166.7L240.8,171.3L236.2,172.5ZM243.0,189.5L244.1,193.5L240.7,193.0ZM241.3,205.9L243.1,210.0L239.4,210.0ZM234.5,223.8L238.6,226.7L235.1,228.8ZM253.5,140.6L256.1,142.6L253.6,143.9ZM252.5,156.8L255.4,158.9L252.7,160.4ZM254.1,172.4L256.7,175.5L253.5,176.4ZM255.1,185.4L257.9,190.2L253.5,190.7ZM258.2,204.2L259.8,209.1L255.6,208.7ZM255.4,226.2L257.4,229.2L254.4,229.7ZM248.2,241.2L253.0,243.9L249.5,246.5ZM270.7,184.6L273.6,189.7L268.9,190.2ZM263.8,204.3L268.7,207.5L264.7,210.1ZM271.5,226.2L273.3,229.3L270.3,229.6ZM269.4,242.6L272.1,245.8L268.8,246.7ZM282.7,186.3L286.6,190.3L282.4,191.8ZM279.4,201.0L283.9,204.7L279.7,206.9ZM283.7,222.1L287.1,226.0L283.1,227.3ZM290.5,242.6L291.2,246.7L287.9,245.8ZM286.1,260.7L288.3,263.9L285.2,264.5ZM280.2,272.9L284.7,276.6L280.5,278.8ZM299.9,204.9L303.1,208.8L299.1,209.9ZM298.3,219.6L302.2,224.0L297.7,225.5ZM302.8,241.8L304.8,245.6L301.3,245.8ZM306.9,262.3L307.0,265.8L304.2,264.6ZM303.9,278.5L305.3,282.0L302.1,281.8ZM299.6,290.2L303.2,294.9L298.6,296.0ZM318.9,208.4L320.4,211.7L317.3,211.7ZM318.0,222.1L320.4,226.5L316.3,226.8ZM316.8,237.1L319.9,242.1L315.2,242.8ZM318.6,263.7L320.1,266.6L317.3,266.8ZM323.9,280.4L323.3,284.0L320.8,282.3ZM318.6,293.5L320.6,297.7L316.8,297.8ZM316.0,305.7L319.2,310.6L314.5,311.4ZM335.3,211.7L336.2,214.9L333.4,214.5ZM337.0,224.7L337.8,228.9L334.4,228.0ZM335.8,242.8L336.9,246.6L333.6,246.1ZM336.1,259.1L337.3,263.4L333.7,262.8ZM338.6,277.8L338.8,282.1L335.5,280.8ZM336.5,294.3L337.6,298.6L334.0,298.0ZM334.1,310.5L336.2,314.9L332.2,315.0ZM332.7,325.4L335.6,330.5L331.0,331.0ZM332.3,340.9L335.3,346.0L330.6,346.5ZM352.7,210.9L352.8,214.3L350.2,213.2ZM352.6,228.0L352.9,231.3L350.2,230.3ZM355.1,243.7L354.7,247.8L351.8,246.1ZM356.8,260.8L355.9,265.3L352.8,263.1ZM355.1,277.9L354.9,282.3L351.6,280.6ZM352.1,295.9L352.9,299.7L349.7,299.0ZM352.0,312.2L353.0,316.4L349.5,315.8ZM349.6,329.5L351.5,333.4L347.9,333.5ZM347.8,343.3L350.8,348.2L346.3,348.8ZM347.0,358.0L350.2,363.0L345.5,363.7ZM368.2,210.9L368.3,214.3L365.7,213.2ZM369.7,225.6L369.7,229.7L366.6,228.3ZM372.3,243.7L371.3,248.0L368.4,245.8ZM372.3,260.8L371.4,265.3L368.3,263.1ZM370.6,278.7L370.3,282.8L367.3,281.1ZM371.2,296.8L370.5,300.9L367.7,299.0ZM370.3,314.8L370.0,318.6L367.2,317.0ZM366.8,330.3L368.0,334.3L364.6,333.8ZM365.4,348.2L367.1,351.8L363.8,351.8ZM361.7,361.3L365.2,365.8L360.8,367.0ZM361.7,376.1L365.2,380.9L360.5,381.9ZM381.7,199.4L379.9,196.4L378.4,197.4L380.2,200.4ZM382.6,210.9L383.2,214.2L380.5,213.5ZM387.7,226.4L386.7,230.6L383.9,228.4ZM387.7,242.2L387.0,247.0L383.7,244.8ZM386.8,259.2L386.5,264.0L383.0,262.2ZM388.5,277.9L387.4,282.6L384.3,280.2ZM389.2,296.9L387.6,301.2L384.9,298.6ZM386.7,314.8L386.0,318.7L383.3,316.8ZM386.7,332.8L385.9,336.6L383.3,334.7ZM384.2,350.7L384.3,354.1L381.7,353.0ZM381.5,366.3L382.9,369.9L379.7,369.7ZM378.0,379.3L381.2,383.8L376.9,384.7ZM378.1,394.8L381.3,399.7L376.7,400.5ZM378.1,410.3L381.2,415.3L376.6,416.0ZM379.3,428.7L382.2,433.9L377.5,434.3ZM378.9,446.3L381.9,451.4L377.2,451.9ZM397.3,165.0L398.3,162.5L396.6,161.9L395.6,164.4ZM397.4,199.7L396.6,195.7L394.8,196.1L395.6,200.1ZM396.5,211.7L397.9,214.7L395.1,214.7ZM402.5,226.4L401.8,230.5L398.9,228.5ZM403.0,242.2L402.4,246.9L399.0,244.9ZM401.6,258.3L401.7,263.4L397.9,261.7ZM403.3,277.1L402.6,282.0L399.2,279.8ZM404.7,295.2L403.4,300.1L400.2,297.6ZM403.8,312.3L402.9,317.2L399.5,314.9ZM402.2,332.0L401.6,336.1L398.7,334.2ZM400.6,350.8L400.4,354.2L397.8,352.8ZM397.9,366.3L399.0,370.0L395.8,369.5ZM396.5,381.9L398.3,386.0L394.6,386.0ZM394.4,397.3L397.3,401.8L393.0,402.4ZM395.3,416.8L397.6,420.8L393.8,421.2ZM394.8,433.3L397.4,437.6L393.4,438.1ZM393.4,449.6L396.6,454.1L392.2,455.1ZM393.4,463.9L396.6,468.8L392.0,469.6ZM393.4,480.7L396.6,485.6L391.9,486.4ZM393.4,498.6L396.6,503.5L392.0,504.3ZM412.9,200.2L413.7,197.6L411.9,197.0L411.1,199.6ZM413.2,211.7L414.0,214.9L411.2,214.4ZM418.1,227.2L417.2,231.1L414.6,229.1ZM418.0,243.7L417.3,247.9L414.4,245.9ZM418.9,260.8L417.9,265.3L414.9,263.1ZM420.6,277.9L419.1,282.8L416.0,280.1ZM420.2,296.9L418.7,301.2L415.9,298.6ZM420.2,314.0L418.8,318.5L415.9,315.9ZM420.2,331.2L418.8,335.9L415.8,333.3ZM416.8,346.7L417.0,351.6L413.3,350.1ZM416.8,364.5L416.9,369.3L413.3,367.8ZM416.8,382.7L416.9,387.3L413.4,385.7ZM416.0,400.5L416.3,404.9L412.9,403.7ZM413.4,416.8L414.8,421.2L411.0,420.8ZM413.2,433.3L414.8,438.0L410.7,437.7ZM412.6,452.0L414.3,456.3L410.5,456.1ZM412.3,474.9L413.6,478.0L410.8,477.8ZM410.6,491.5L412.5,494.2L409.8,494.7ZM406.8,507.7L410.1,510.1L407.2,511.8ZM406.8,524.8L410.2,527.3L407.1,529.0ZM406.8,542.9L410.1,545.3L407.2,547.0ZM412.7,693.3L414.4,691.1L413.0,689.9L411.3,692.1ZM428.4,200.1L429.2,196.1L427.4,195.7L426.6,199.7ZM430.3,210.9L430.4,214.3L427.8,213.2ZM431.8,228.1L431.5,231.4L429.0,229.9ZM432.5,245.3L431.9,248.8L429.4,247.2ZM434.4,262.4L433.2,266.4L430.7,264.1ZM436.2,280.1L434.3,284.3L431.8,281.5ZM437.5,296.9L435.3,301.5L432.6,298.4ZM436.7,315.7L434.6,319.8L432.3,316.9ZM435.7,332.1L434.2,336.4L431.4,333.8ZM434.9,349.1L433.7,353.6L430.8,351.2ZM434.9,366.4L433.8,371.0L430.8,368.6ZM434.0,383.5L433.3,388.1L430.1,386.0ZM434.8,399.0L434.2,404.3L430.4,402.1ZM430.5,418.1L431.1,422.4L427.7,421.4ZM430.1,430.0L431.6,435.7L426.9,435.0ZM430.1,449.6L431.4,455.0L427.0,454.2ZM430.5,468.5L431.5,473.5L427.4,472.6ZM432.1,487.2L432.4,492.1L428.6,490.7ZM430.5,508.4L430.8,512.0L428.0,511.0ZM429.7,527.2L430.2,530.5L427.5,529.7ZM429.7,544.4L430.2,547.7L427.5,546.9ZM429.2,563.4L429.7,566.7L427.0,565.9ZM428.3,587.5L430.6,583.1L429.0,582.3L426.7,586.7ZM428.2,605.2L431.2,601.2L429.8,600.2L426.8,604.2ZM428.3,622.8L430.6,619.2L429.1,618.2L426.8,621.8ZM428.3,640.4L429.8,637.9L428.2,636.9L426.7,639.4ZM428.4,692.8L429.2,687.8L427.4,687.6L426.6,692.6ZM431.9,705.6L430.9,708.7L428.9,706.8ZM443.9,200.1L445.2,195.4L443.5,195.0L442.2,199.7ZM445.8,212.4L445.6,215.7L443.2,214.3ZM448.0,227.7L447.4,231.2L444.9,229.6ZM446.6,245.3L446.6,248.6L444.0,247.4ZM448.6,263.3L447.8,266.8L445.4,264.9ZM449.1,280.4L448.2,284.2L445.7,282.1ZM453.0,297.7L450.7,302.0L448.3,298.9ZM453.8,314.9L451.3,319.5L448.8,316.1ZM453.8,332.1L451.4,336.8L448.7,333.5ZM453.0,349.2L450.9,353.9L448.1,350.8ZM452.2,366.5L450.4,371.2L447.5,368.4ZM451.2,384.4L449.8,388.9L446.9,386.3ZM452.2,401.7L450.4,406.4L447.5,403.6ZM450.3,418.2L449.4,423.0L446.1,420.8ZM450.2,433.4L449.7,439.0L445.8,436.8ZM449.2,446.3L449.7,452.2L445.2,450.6ZM447.6,463.6L448.6,469.4L444.0,468.3ZM448.4,499.4L449.1,505.3L444.6,503.9ZM447.6,520.7L448.1,526.2L443.9,524.8ZM447.6,538.7L448.1,544.0L444.0,542.6ZM447.2,555.9L447.9,561.3L443.7,560.0ZM446.2,572.5L447.3,578.1L442.8,577.1ZM447.9,591.1L448.3,596.6L444.1,595.1ZM447.3,612.4L447.4,616.7L444.2,615.3ZM448.0,627.0L448.2,632.3L444.2,630.8ZM447.2,642.5L448.0,648.3L443.5,647.1ZM443.0,657.2L445.4,662.6L440.7,662.6ZM443.0,676.1L445.4,681.5L440.7,681.5ZM447.8,691.4L448.8,697.2L444.2,696.1ZM443.0,713.7L445.2,718.7L440.8,718.7ZM459.4,200.2L460.5,196.6L458.8,196.0L457.7,199.6ZM459.2,218.1L462.5,214.3L461.2,213.1L457.9,216.9ZM462.9,229.7L462.1,233.0L460.0,231.2ZM462.1,246.2L461.9,249.5L459.5,248.1ZM462.9,263.3L462.5,266.6L460.1,265.1ZM465.5,280.5L464.2,284.3L461.8,282.0ZM465.9,296.8L464.7,301.1L461.9,298.7ZM467.7,314.9L465.8,319.2L463.2,316.3ZM469.3,332.1L466.9,336.8L464.2,333.5ZM470.0,349.2L467.4,354.1L464.6,350.6ZM467.7,365.4L466.1,370.5L462.9,367.7ZM466.7,382.7L465.5,387.8L462.2,385.2ZM468.5,400.7L466.6,405.8L463.4,402.8ZM469.0,418.3L467.0,423.5L463.8,420.3ZM470.0,433.5L468.1,439.1L464.6,435.9ZM468.2,452.1L466.7,457.7L463.1,454.7ZM468.3,471.1L466.5,476.2L463.3,473.2ZM466.6,487.3L465.6,492.7L462.0,490.2ZM464.8,504.4L464.6,509.6L460.7,507.7ZM463.9,516.7L464.6,522.6L460.1,521.2ZM460.9,552.9L462.5,558.6L457.8,557.9ZM463.4,571.5L464.1,577.4L459.6,576.0ZM460.1,587.8L462.0,593.4L457.3,593.0ZM465.2,604.2L465.5,610.1L461.1,608.5ZM465.2,624.6L465.2,630.5L460.9,628.7ZM464.4,643.3L464.5,649.1L460.2,647.4ZM461.0,661.5L462.2,666.6L458.0,665.9ZM458.6,676.1L460.9,681.5L456.2,681.5ZM458.6,691.4L460.9,696.8L456.2,696.8ZM474.9,200.3L476.2,197.3L474.6,196.5L473.3,199.5ZM474.9,217.9L476.5,214.6L474.9,213.8L473.3,217.1ZM474.7,235.7L477.2,233.2L475.9,232.0L473.4,234.5ZM478.1,247.8L477.3,251.1L475.1,249.3ZM478.0,263.3L477.8,266.6L475.3,265.2ZM481.0,281.3L479.6,284.8L477.4,282.5ZM482.3,297.7L480.6,301.8L478.1,299.1ZM481.5,314.9L480.2,319.0L477.5,316.6ZM480.6,332.0L479.7,336.2L476.9,334.1ZM484.9,350.1L482.4,354.7L479.8,351.3ZM485.6,367.2L482.9,372.0L480.2,368.5ZM484.8,383.6L482.6,388.7L479.6,385.4ZM484.8,400.7L482.7,405.9L479.5,402.7ZM487.1,418.3L484.4,423.5L481.4,419.8ZM487.1,435.1L484.6,440.4L481.5,436.8ZM486.3,453.9L483.7,459.2L480.7,455.5ZM486.4,472.9L483.4,477.7L480.8,474.0ZM485.5,489.1L483.1,494.3L480.0,490.8ZM483.8,504.4L482.3,510.1L478.5,507.2ZM481.3,524.8L480.3,529.3L477.3,527.0ZM482.1,541.4L481.0,546.4L477.7,543.8ZM480.0,558.5L479.6,563.3L476.1,561.4ZM479.0,574.7L479.2,579.8L475.3,578.3ZM478.3,591.1L478.9,596.5L474.7,595.2ZM478.3,608.3L478.9,613.8L474.7,612.5ZM479.0,626.3L479.4,631.8L475.2,630.3ZM479.9,643.3L480.0,649.1L475.7,647.4ZM476.5,659.5L478.0,665.2L473.3,664.5ZM474.1,678.1L476.3,683.2L471.8,683.2ZM474.1,695.7L476.3,700.8L471.8,700.8ZM475.6,730.5L477.4,735.9L472.8,735.5ZM490.1,235.9L494.1,233.3L493.1,231.7L489.1,234.3ZM490.1,253.5L494.1,251.1L493.1,249.5L489.1,251.9ZM495.1,267.2L493.2,269.9L491.8,267.4ZM496.5,281.9L495.0,285.2L492.9,282.9ZM496.4,299.1L495.0,302.6L492.9,300.3ZM496.2,314.8L495.2,318.9L492.5,316.7ZM494.5,332.0L494.2,335.9L491.3,334.3ZM497.0,350.1L495.7,354.2L493.0,351.8ZM498.8,368.0L496.8,372.3L494.3,369.3ZM500.4,386.2L497.8,390.4L495.5,387.0ZM500.4,403.2L497.8,407.7L495.4,404.3ZM502.7,421.4L499.3,425.9L497.1,421.9ZM502.7,437.0L499.7,442.0L496.9,438.2ZM501.0,453.0L498.8,458.4L495.5,455.0ZM503.5,472.2L500.3,477.1L497.7,473.2ZM502.7,490.0L499.6,495.0L496.9,491.1ZM502.7,508.7L499.4,513.5L496.9,509.5ZM500.0,524.1L498.0,529.2L494.8,526.0ZM498.5,541.4L497.0,546.5L493.8,543.7ZM497.7,560.2L496.3,564.8L493.4,562.2ZM498.5,578.2L496.8,582.7L494.0,579.9ZM498.5,594.4L497.0,599.4L493.8,596.7ZM496.8,611.8L495.9,616.6L492.6,614.4ZM496.8,627.1L496.3,632.6L492.3,630.4ZM496.8,645.0L496.2,650.4L492.4,648.2ZM495.8,661.4L495.8,667.1L491.6,665.2ZM491.7,678.1L493.2,683.5L488.7,682.9ZM490.3,694.2L492.5,699.7L487.7,699.5ZM505.2,253.6L509.7,253.1L509.5,251.3L505.0,251.8ZM505.5,271.1L510.0,268.7L509.2,267.1L504.7,269.5ZM512.0,282.8L510.3,285.9L508.6,283.5ZM511.9,298.1L510.7,301.9L508.2,299.6ZM510.8,313.9L510.3,318.1L507.3,316.3ZM510.8,331.2L510.3,335.5L507.3,333.7ZM510.8,349.1L510.3,353.3L507.3,351.5ZM513.3,366.4L511.9,371.1L508.9,368.5ZM514.2,383.6L512.6,388.5L509.5,385.6ZM512.5,402.3L511.3,406.6L508.5,404.3ZM514.3,420.3L512.4,424.7L509.7,421.8ZM516.6,439.3L513.7,443.5L511.5,440.0ZM517.6,455.6L514.6,460.4L512.0,456.5ZM518.3,472.2L515.3,477.2L512.5,473.3ZM517.6,489.9L514.7,495.0L511.9,491.2ZM518.3,508.7L515.0,513.5L512.5,509.5ZM516.6,524.1L514.2,529.4L511.0,525.9ZM514.2,542.2L512.6,547.0L509.5,544.2ZM514.2,559.5L512.6,564.4L509.5,561.6ZM515.1,578.2L513.0,582.9L510.2,579.8ZM515.1,595.3L513.0,600.1L510.1,597.0ZM514.2,611.8L512.7,616.9L509.4,614.1ZM514.2,628.8L512.7,634.1L509.3,631.3ZM513.3,646.7L512.1,651.8L508.7,649.2ZM512.4,661.4L512.0,667.2L507.8,665.0ZM511.4,678.9L511.3,684.6L507.1,682.7ZM512.4,693.8L512.4,699.6L508.0,697.7ZM510.9,710.3L511.5,716.2L507.0,714.7ZM505.1,751.5L507.0,755.6L503.3,755.6ZM527.5,268.2L525.0,270.4L524.2,267.7ZM527.4,282.8L525.8,285.9L524.1,283.5ZM526.3,298.0L525.5,301.7L523.0,299.8ZM526.4,313.9L525.8,318.1L522.8,316.3ZM525.5,331.2L525.3,335.4L522.2,333.8ZM523.8,348.2L524.3,352.4L521.0,351.3ZM527.2,366.4L526.4,370.8L523.3,368.7ZM525.5,384.3L525.3,388.4L522.3,386.8ZM526.4,403.9L525.5,407.5L523.1,405.6ZM527.2,420.2L526.2,424.3L523.5,422.2ZM529.8,438.4L527.8,442.7L525.3,439.7ZM529.8,457.1L527.6,461.0L525.5,458.1ZM531.5,475.3L528.6,479.2L526.7,475.8ZM531.4,492.4L528.7,496.4L526.6,493.0ZM532.2,511.2L529.0,515.0L527.3,511.3ZM533.2,527.5L529.8,531.8L527.8,527.9ZM530.6,543.0L528.5,547.7L525.7,544.6ZM530.6,560.3L528.5,565.1L525.7,562.0ZM530.6,577.4L528.6,582.3L525.6,579.2ZM530.6,596.1L528.4,600.7L525.8,597.6ZM530.6,614.2L528.4,618.6L525.8,615.5ZM528.8,629.6L527.6,634.5L524.3,632.0ZM531.4,646.8L529.3,652.1L526.0,648.9ZM531.4,663.9L529.4,669.4L525.9,666.1ZM530.0,679.2L528.9,685.0L525.0,682.3ZM527.2,751.6L526.7,756.7L523.1,754.6ZM536.4,253.6L540.7,252.6L540.3,250.8L536.0,251.8ZM545.2,265.8L542.7,268.9L541.2,266.0ZM546.6,282.5L543.8,286.1L542.0,282.8ZM549.4,298.2L545.9,302.8L543.7,298.7ZM549.4,314.8L546.1,319.7L543.5,315.7ZM546.1,331.3L544.1,336.1L541.2,333.0ZM546.6,349.2L544.4,354.0L541.6,350.8ZM537.5,366.3L538.6,370.0L535.4,369.5ZM542.0,406.5L540.5,409.5L538.8,407.3ZM537.0,429.1L539.0,424.4L537.3,423.6L535.3,428.3ZM541.0,440.8L540.0,444.0L537.9,442.2ZM544.4,459.6L542.1,462.6L540.7,459.8ZM545.2,477.0L542.7,480.1L541.2,477.2ZM546.7,494.7L543.7,497.9L542.2,494.5ZM546.7,510.4L544.0,514.3L542.0,511.0ZM546.7,527.5L544.0,531.5L541.9,528.2ZM545.2,546.4L542.8,549.8L541.0,546.9ZM545.9,561.1L543.8,565.6L541.2,562.5ZM545.1,578.2L543.3,582.7L540.5,579.9ZM544.3,595.2L542.9,599.9L539.9,597.3ZM545.1,612.6L543.5,617.4L540.4,614.6ZM544.2,628.0L543.2,633.4L539.6,630.9ZM544.2,643.4L543.6,649.2L539.4,646.9ZM546.6,663.0L544.8,668.7L541.2,665.6ZM547.5,679.2L545.9,684.9L542.3,681.8ZM556.6,460.6L554.9,463.4L553.3,461.1ZM559.1,478.3L556.9,480.8L555.8,478.2ZM561.6,496.7L558.4,499.2L557.6,495.9ZM562.3,514.6L558.8,517.1L558.1,513.6ZM560.8,531.6L557.9,534.1L557.0,531.1ZM559.1,547.2L557.2,550.2L555.6,547.6ZM562.2,565.3L559.2,568.5L557.8,565.1ZM559.8,579.0L558.2,583.2L555.6,580.6ZM560.6,596.1L558.8,600.5L556.1,597.7ZM561.4,613.4L559.4,618.0L556.6,615.0ZM561.4,628.8L559.7,634.2L556.3,631.2ZM560.6,646.7L559.1,651.9L555.8,649.1ZM562.1,663.0L560.3,668.7L556.8,665.6ZM564.1,680.3L562.0,685.8L558.6,682.4ZM564.7,697.3L562.6,702.8L559.2,699.4ZM564.1,712.7L562.5,718.4L558.8,715.4ZM552.6,780.7L552.6,777.2L550.8,777.2L550.8,780.7ZM567.6,482.3L571.4,480.5L570.6,478.9L566.8,480.7ZM574.8,498.0L572.0,499.8L571.6,497.0ZM575.6,515.0L572.8,517.1L572.2,514.2ZM576.5,532.6L573.4,534.8L572.8,531.7ZM577.3,549.8L574.0,552.2L573.3,548.9ZM576.5,566.3L573.6,569.0L572.6,565.9ZM578.1,583.3L574.8,586.4L573.6,582.9ZM578.0,598.7L575.2,602.5L573.3,599.1ZM578.0,614.2L575.5,618.7L572.9,615.4ZM578.7,630.5L576.1,635.5L573.2,632.0ZM577.9,646.8L575.8,652.1L572.6,648.9ZM577.1,663.0L575.5,668.7L571.8,665.7ZM578.6,681.3L576.5,686.8L573.1,683.4ZM580.3,736.2L577.3,741.2L574.5,737.4ZM573.8,761.5L571.2,763.5L570.5,760.8ZM573.4,779.2L570.8,781.2L570.1,778.5ZM589.4,512.8L587.6,515.5L586.1,513.1ZM589.5,534.0L586.6,535.5L586.5,532.7ZM590.3,554.1L587.0,554.6L587.8,551.9ZM592.0,571.4L588.3,572.3L589.0,569.2ZM595.3,584.2L591.3,587.2L590.4,583.2ZM594.3,598.7L591.1,602.6L589.3,599.0ZM594.2,614.3L591.4,618.8L589.0,615.3ZM594.2,632.2L591.4,636.6L589.0,633.1ZM595.2,647.6L592.4,652.8L589.5,649.1ZM594.1,663.1L592.1,668.6L588.7,665.4ZM594.1,681.3L592.0,686.8L588.7,683.4ZM594.1,697.2L592.3,702.9L588.8,699.8ZM589.4,736.0L588.5,740.4L585.5,738.3ZM583.6,763.0L582.9,758.0L581.1,758.2L581.8,763.2ZM583.1,781.5L586.6,780.1L585.9,778.5L582.4,779.9ZM605.0,554.1L601.7,554.5L602.6,551.8ZM606.6,571.4L603.2,572.2L603.9,569.3ZM610.3,585.2L606.4,587.8L605.8,584.0ZM610.3,601.5L606.6,604.6L605.6,600.8ZM610.3,618.3L606.7,621.6L605.4,617.8ZM611.0,634.4L607.4,638.3L605.7,634.3ZM611.7,651.2L608.0,655.5L606.1,651.4ZM610.2,665.3L607.5,670.5L604.6,666.9ZM609.5,683.2L607.0,688.2L604.1,684.8ZM609.7,701.5L607.1,706.4L604.4,702.8ZM609.7,717.5L607.3,722.8L604.1,719.4ZM604.6,736.0L603.8,740.4L600.8,738.4ZM589.5,750.0L594.5,753.2L590.5,755.8ZM605.5,777.7L603.3,780.1L602.2,777.5ZM619.3,553.6L616.1,554.1L616.9,551.4ZM622.2,568.9L619.2,570.5L619.0,567.6ZM623.4,586.2L620.0,588.2L619.7,585.0ZM624.9,604.7L620.9,606.5L620.9,602.9ZM626.4,621.1L622.1,623.5L621.7,619.6ZM624.8,636.5L621.4,639.5L620.4,635.9ZM627.6,652.4L623.6,656.3L622.0,652.0ZM625.5,668.2L622.4,672.4L620.3,668.8ZM624.8,686.8L621.8,690.6L620.0,687.2ZM625.8,703.0L622.7,707.4L620.5,703.7ZM622.9,719.1L621.1,723.6L618.3,720.8ZM615.5,732.9L616.9,737.6L612.9,737.1ZM606.7,752.8L610.8,755.3L607.6,757.5ZM621.6,777.7L619.2,780.2L618.2,777.4ZM629.1,570.4L633.1,571.4L633.5,569.6L629.5,568.6ZM635.5,588.2L632.3,589.1L632.8,586.3ZM638.3,607.1L634.6,607.7L635.4,604.7ZM641.1,623.5L636.7,624.9L637.1,621.2ZM643.2,639.5L638.4,641.8L638.3,637.5ZM644.6,656.8L639.4,659.4L639.2,654.7ZM643.2,672.6L638.7,675.6L637.9,671.3ZM641.8,687.5L638.3,691.3L636.6,687.3ZM641.8,705.9L638.1,709.4L636.8,705.5ZM640.4,721.3L637.5,725.4L635.5,721.9ZM632.4,731.6L633.5,736.9L629.2,736.0ZM620.5,757.2L624.6,757.9L622.7,760.7ZM638.3,776.2L635.8,779.3L634.3,776.4ZM663.4,658.5L657.9,660.6L658.1,655.9ZM661.4,672.6L656.4,675.8L655.7,671.1ZM658.6,689.0L654.3,692.4L653.2,688.2ZM658.7,706.6L654.4,710.1L653.3,705.8ZM657.4,722.7L653.8,726.5L652.1,722.5ZM638.0,759.3L641.3,759.5L639.9,762.0ZM657.3,774.1L654.0,778.4L651.9,774.5ZM675.9,619.2L671.1,622.6L670.1,617.9ZM678.9,656.8L673.6,659.4L673.4,654.6ZM677.4,672.0L672.5,675.3L671.7,670.6ZM675.3,690.5L670.4,693.6L669.8,689.0ZM675.5,706.7L670.8,710.2L669.7,705.6ZM673.4,723.5L669.5,727.1L668.1,723.0ZM661.2,762.9L660.2,757.9L658.4,758.3L659.4,763.3ZM675.5,772.7L671.8,777.3L669.6,773.1ZM676.1,623.2L680.1,622.2L679.6,620.4L675.6,621.4ZM691.4,639.9L686.0,642.3L686.0,637.5ZM691.4,656.8L686.2,659.4L685.9,654.7ZM692.1,672.3L687.2,675.5L686.4,670.9ZM690.7,688.3L686.2,692.1L684.9,687.6ZM691.7,705.1L687.3,709.0L685.8,704.5ZM676.6,763.6L678.6,760.8L677.1,759.8L675.1,762.6ZM698.5,657.5L695.5,658.9L695.5,656.1ZM702.5,670.9L699.2,674.2L697.9,670.6ZM702.5,687.4L699.4,691.1L697.7,687.5ZM697.0,700.8L696.5,705.1L693.4,703.3ZM700.8,754.3L698.9,758.9L696.1,755.9ZM717.2,687.2L714.4,690.8L712.7,687.5ZM701.4,693.7L705.3,698.1L700.8,699.6ZM698.7,736.0L703.1,738.1L700.1,740.7ZM712.9,694.0L717.7,697.5L713.6,699.8ZM728.9,736.0L728.1,740.4L725.1,738.3ZM729.6,694.8L734.3,698.4L730.1,700.7ZM726.7,715.9L732.1,718.2L728.7,721.4ZM766.1,714.5L764.1,720.0L760.6,716.8ZM775.7,699.6L775.0,704.4L771.6,702.3Z" fill="#000" stroke="#000" stroke-width="0.6" shape-rendering="crispEdges"/>
<circle cx="132.7" cy="116" r="3.6" fill="#00ff00" shape-rendering="auto"/>
<circle cx="161.5" cy="111.5" r="3.6" fill="#00ff00" shape-rendering="auto"/>
<circle cx="226" cy="123" r="3.6" fill="#00ff00" shape-rendering="auto"/>
<circle cx="329.4" cy="186" r="3.6" fill="#00ff00" shape-rendering="auto"/>
<circle cx="373" cy="165.5" r="3.6" fill="#00ff00" shape-rendering="auto"/>
<circle cx="406" cy="143" r="3.6" fill="#00ff00" shape-rendering="auto"/>
<circle cx="431" cy="149.4" r="3.6" fill="#00ff00" shape-rendering="auto"/>
<circle cx="452.5" cy="161" r="3.6" fill="#00ff00" shape-rendering="auto"/>
<circle cx="477.5" cy="190" r="3.6" fill="#00ff00" shape-rendering="auto"/>
<circle cx="494.4" cy="216" r="3.6" fill="#00ff00" shape-rendering="auto"/>
<circle cx="548" cy="268" r="3.6" fill="#00ff00" shape-rendering="auto"/>
<circle cx="547.5" cy="345" r="3.6" fill="#00ff00" shape-rendering="auto"/>
<circle cx="544.4" cy="351.5" r="3.6" fill="#00ff00" shape-rendering="auto"/>
<circle cx="543" cy="370" r="3.6" fill="#00ff00" shape-rendering="auto"/>
<circle cx="574.3" cy="383" r="3.6" fill="#00ff00" shape-rendering="auto"/>
<circle cx="580.5" cy="391" r="3.6" fill="#00ff00" shape-rendering="auto"/>
<circle cx="566" cy="414" r="3.6" fill="#00ff00" shape-rendering="auto"/>
<circle cx="572.5" cy="428" r="3.6" fill="#00ff00" shape-rendering="auto"/>
<circle cx="595.5" cy="485" r="3.6" fill="#00ff00" shape-rendering="auto"/>
<circle cx="618" cy="490.5" r="3.6" fill="#00ff00" shape-rendering="auto"/>
<circle cx="636" cy="520" r="3.6" fill="#00ff00" shape-rendering="auto"/>
<circle cx="686" cy="628" r="3.6" fill="#00ff00" shape-rendering="auto"/>
<circle cx="700.5" cy="654" r="3.6" fill="#00ff00" shape-rendering="auto"/>
<circle cx="700.8" cy="658" r="3.6" fill="#00ff00" shape-rendering="auto"/>
<circle cx="701" cy="667" r="3.6" fill="#00ff00" shape-rendering="auto"/>
<circle cx="729.5" cy="687" r="3.6" fill="#00ff00" shape-rendering="auto"/>
<circle cx="751" cy="703" r="3.6" fill="#00ff00" shape-rendering="auto"/>
<path d="M327.7,100.2H377M362.3,93.8L378,100.2L362.3,105.9" fill="none" stroke="#000" stroke-width="2.2" shape-rendering="auto"/>
<g shape-rendering="auto"><polygon points="716.6,353.0 719.8000000000001,372.2 737.2,375.4 719.8000000000001,378.59999999999997 716.6,397.9 713.4,378.59999999999997 696.9,375.4 713.4,372.2" fill="#000" stroke="#000" stroke-width="0.7"/><polygon points="715.7,365.4 715.7,374.4 714.4,373.0" fill="#fff" stroke="#fff" stroke-width="0.5"/><polygon points="727.6,374.5 717.6,374.5 719.2,373.09999999999997" fill="#fff" stroke="#fff" stroke-width="0.5"/><polygon points="717.5,389.4 717.5,377.4 718.8000000000001,378.4" fill="#fff" stroke="#fff" stroke-width="0.5"/><polygon points="703.6,376.29999999999995 715.6,376.29999999999995 713.6,377.9" fill="#fff" stroke="#fff" stroke-width="0.5"/></g>
<rect x="85.5" y="45.5" width="728.0" height="771.0" fill="none" stroke="#000" stroke-width="1"/>
<line x1="134.5" y1="45.5" x2="134.5" y2="37.5" stroke="#000"/>
<line x1="134.5" y1="816.5" x2="134.5" y2="824.5" stroke="#000"/>
<line x1="231.5" y1="45.5" x2="231.5" y2="37.5" stroke="#000"/>
<line x1="231.5" y1="816.5" x2="231.5" y2="824.5" stroke="#000"/>
<line x1="328.5" y1="45.5" x2="328.5" y2="37.5" stroke="#000"/>
<line x1="328.5" y1="816.5" x2="328.5" y2="824.5" stroke="#000"/>
<line x1="425.5" y1="45.5" x2="425.5" y2="37.5" stroke="#000"/>
<line x1="425.5" y1="816.5" x2="425.5" y2="824.5" stroke="#000"/>
<line x1="522.5" y1="45.5" x2="522.5" y2="37.5" stroke="#000"/>
<line x1="522.5" y1="816.5" x2="522.5" y2="824.5" stroke="#000"/>
<line x1="619.5" y1="45.5" x2="619.5" y2="37.5" stroke="#000"/>
<line x1="619.5" y1="816.5" x2="619.5" y2="824.5" stroke="#000"/>
<line x1="716.5" y1="45.5" x2="716.5" y2="37.5" stroke="#000"/>
<line x1="716.5" y1="816.5" x2="716.5" y2="824.5" stroke="#000"/>
<line x1="813.5" y1="45.5" x2="813.5" y2="37.5" stroke="#000"/>
<line x1="813.5" y1="816.5" x2="813.5" y2="824.5" stroke="#000"/>
<line x1="85.5" y1="816.501" x2="77.5" y2="816.501" stroke="#000"/>
<line x1="813.5" y1="816.501" x2="821.5" y2="816.501" stroke="#000"/>
<line x1="85.5" y1="706.358" x2="77.5" y2="706.358" stroke="#000"/>
<line x1="813.5" y1="706.358" x2="821.5" y2="706.358" stroke="#000"/>
<line x1="85.5" y1="596.215" x2="77.5" y2="596.215" stroke="#000"/>
<line x1="813.5" y1="596.215" x2="821.5" y2="596.215" stroke="#000"/>
<line x1="85.5" y1="486.072" x2="77.5" y2="486.072" stroke="#000"/>
<line x1="813.5" y1="486.072" x2="821.5" y2="486.072" stroke="#000"/>
<line x1="85.5" y1="375.929" x2="77.5" y2="375.929" stroke="#000"/>
<line x1="813.5" y1="375.929" x2="821.5" y2="375.929" stroke="#000"/>
<line x1="85.5" y1="265.786" x2="77.5" y2="265.786" stroke="#000"/>
<line x1="813.5" y1="265.786" x2="821.5" y2="265.786" stroke="#000"/>
<line x1="85.5" y1="155.643" x2="77.5" y2="155.643" stroke="#000"/>
<line x1="813.5" y1="155.643" x2="821.5" y2="155.643" stroke="#000"/>
<line x1="85.5" y1="45.5" x2="77.5" y2="45.5" stroke="#000"/>
<line x1="813.5" y1="45.5" x2="821.5" y2="45.5" stroke="#000"/>
<rect x="445.0" y="81.5" width="21.5" height="9" fill="#00008f" stroke="#000" stroke-width="1"/>
<rect x="466.5" y="81.5" width="21.5" height="9" fill="#0000cf" stroke="#000" stroke-width="1"/>
<rect x="488.0" y="81.5" width="21.5" height="9" fill="#0010ff" stroke="#000" stroke-width="1"/>
<rect x="509.5" y="81.5" width="21.5" height="9" fill="#0050ff" stroke="#000" stroke-width="1"/>
<rect x="531.0" y="81.5" width="21.5" height="9" fill="#008fff" stroke="#000" stroke-width="1"/>
<rect x="552.5" y="81.5" width="21.5" height="9" fill="#00cfff" stroke="#000" stroke-width="1"/>
<rect x="574.0" y="81.5" width="21.5" height="9" fill="#10ffef" stroke="#000" stroke-width="1"/>
<rect x="595.5" y="81.5" width="21.5" height="9" fill="#50ffaf" stroke="#000" stroke-width="1"/>
<rect x="617.0" y="81.5" width="21.5" height="9" fill="#8fff70" stroke="#000" stroke-width="1"/>
<rect x="638.5" y="81.5" width="21.5" height="9" fill="#cfff30" stroke="#000" stroke-width="1"/>
<rect x="660.0" y="81.5" width="21.5" height="9" fill="#ffef00" stroke="#000" stroke-width="1"/>
<rect x="681.5" y="81.5" width="21.5" height="9" fill="#ffaf00" stroke="#000" stroke-width="1"/>
<rect x="703.0" y="81.5" width="21.5" height="9" fill="#ff7000" stroke="#000" stroke-width="1"/>
<rect x="724.5" y="81.5" width="21.5" height="9" fill="#ff3000" stroke="#000" stroke-width="1"/>
<rect x="746.0" y="81.5" width="21.5" height="9" fill="#ef0000" stroke="#000" stroke-width="1"/>
<rect x="767.5" y="81.5" width="21.5" height="9" fill="#af0000" stroke="#000" stroke-width="1"/>
<path d="M445.5,84.5h4M445.5,86.5h4M445.5,88.5h4M784.5,84.5h4M784.5,86.5h4M784.5,88.5h4" stroke="#000" stroke-width="1" fill="none"/>
</svg>
<div class="t" id="title" style="left:450px;top:16.7px;font-size:18px;font-weight:bold;transform:translateX(-50%)">FVCOM surface current at hour 1 on 01/12/2013</div>
<div class="t yl" style="right:783px;top:808.8px">24</div>
<div class="t yl" style="right:783px;top:698.7px">25</div>
<div class="t yl" style="right:783px;top:588.5px">26</div>
<div class="t yl" style="right:783px;top:478.4px">27</div>
<div class="t yl" style="right:783px;top:368.2px">28</div>
<div class="t yl" style="right:783px;top:258.1px">29</div>
<div class="t yl" style="right:783px;top:147.9px">30</div>
<div class="t yl" style="right:783px;top:37.8px">31</div>
<div class="t xl" style="left:130.5px;top:828.7px">&#8722;87</div>
<div class="t xl" style="left:227.5px;top:828.7px">&#8722;86</div>
<div class="t xl" style="left:324.5px;top:828.7px">&#8722;85</div>
<div class="t xl" style="left:421.5px;top:828.7px">&#8722;84</div>
<div class="t xl" style="left:518.5px;top:828.7px">&#8722;83</div>
<div class="t xl" style="left:615.5px;top:828.7px">&#8722;82</div>
<div class="t xl" style="left:712.5px;top:828.7px">&#8722;81</div>
<div class="t xl" style="left:809.5px;top:828.7px">&#8722;80</div>
<div class="t" id="xlab" style="left:449.5px;top:845.1px;font-size:16px;font-weight:bold;transform:translateX(-50%)">Longitude (&#176;W)</div>
<div class="t" id="ylab" style="left:45px;top:430px;font-size:16px;font-weight:bold;transform:translate(-50%,-50%) rotate(-90deg)">Latitude (&#176;N)</div>
<div class="t" id="ocg" style="left:621.5px;top:476.7px;font-size:19.5px;font-weight:bold;color:#f00">OCG@USF</div>
<div class="t" id="ms" style="left:328.5px;top:81.1px;font-size:16.4px">1 m/s</div>
<div class="t" id="sal" style="left:616.7px;top:62.8px;font-size:12px;font-style:italic;transform:translateX(-50%)">salinity (psu)</div>
<div class="t" id="N" style="left:721.3px;top:337px;font-size:12px;transform:translateX(-50%)">N</div>
<div class="t cb" style="left:445px;top:94.1px">20</div>
<div class="t cb" style="left:488px;top:94.1px">22</div>
<div class="t cb" style="left:531px;top:94.1px">24</div>
<div class="t cb" style="left:574px;top:94.1px">26</div>
<div class="t cb" style="left:617px;top:94.1px">28</div>
<div class="t cb" style="left:660px;top:94.1px">30</div>
<div class="t cb" style="left:703px;top:94.1px">32</div>
<div class="t cb" style="left:746px;top:94.1px">34</div>
<div class="t cb" style="left:789px;top:94.1px">36</div>
</body></html>
